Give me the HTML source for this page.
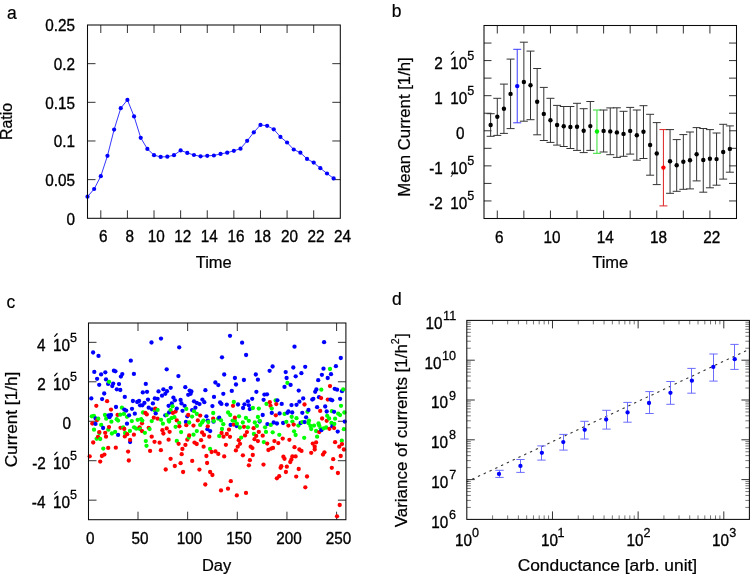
<!DOCTYPE html>
<html><head><meta charset="utf-8"><title>Figure</title>
<style>
html,body{margin:0;padding:0;background:#fff;}
body{width:751px;height:575px;overflow:hidden;}
svg{display:block;will-change:transform;}
svg text{font-family:"Liberation Sans", sans-serif;fill:#000;}
</style></head><body>
<svg width="751" height="575" viewBox="0 0 751 575">
<rect width="751" height="575" fill="#fff"/>
<line x1="100.81" y1="218.30" x2="100.81" y2="210.30" stroke="#333" stroke-width="1" />
<line x1="100.81" y1="25.00" x2="100.81" y2="33.00" stroke="#333" stroke-width="1" />
<text transform="translate(98.92,241.90) scale(0.9,1)" font-size="17.0" stroke="#000" stroke-width="0.35">6</text>
<line x1="127.42" y1="218.30" x2="127.42" y2="210.30" stroke="#333" stroke-width="1" />
<line x1="127.42" y1="25.00" x2="127.42" y2="33.00" stroke="#333" stroke-width="1" />
<text transform="translate(125.53,241.90) scale(0.9,1)" font-size="17.0" stroke="#000" stroke-width="0.35">8</text>
<line x1="154.03" y1="218.30" x2="154.03" y2="210.30" stroke="#333" stroke-width="1" />
<line x1="154.03" y1="25.00" x2="154.03" y2="33.00" stroke="#333" stroke-width="1" />
<text transform="translate(147.67,241.90) scale(0.9,1)" font-size="17.0" stroke="#000" stroke-width="0.35">10</text>
<line x1="180.64" y1="218.30" x2="180.64" y2="210.30" stroke="#333" stroke-width="1" />
<line x1="180.64" y1="25.00" x2="180.64" y2="33.00" stroke="#333" stroke-width="1" />
<text transform="translate(174.35,241.90) scale(0.9,1)" font-size="17.0" stroke="#000" stroke-width="0.35">12</text>
<line x1="207.25" y1="218.30" x2="207.25" y2="210.30" stroke="#333" stroke-width="1" />
<line x1="207.25" y1="25.00" x2="207.25" y2="33.00" stroke="#333" stroke-width="1" />
<text transform="translate(200.81,241.90) scale(0.9,1)" font-size="17.0" stroke="#000" stroke-width="0.35">14</text>
<line x1="233.86" y1="218.30" x2="233.86" y2="210.30" stroke="#333" stroke-width="1" />
<line x1="233.86" y1="25.00" x2="233.86" y2="33.00" stroke="#333" stroke-width="1" />
<text transform="translate(227.54,241.90) scale(0.9,1)" font-size="17.0" stroke="#000" stroke-width="0.35">16</text>
<line x1="260.47" y1="218.30" x2="260.47" y2="210.30" stroke="#333" stroke-width="1" />
<line x1="260.47" y1="25.00" x2="260.47" y2="33.00" stroke="#333" stroke-width="1" />
<text transform="translate(254.11,241.90) scale(0.9,1)" font-size="17.0" stroke="#000" stroke-width="0.35">18</text>
<line x1="287.08" y1="218.30" x2="287.08" y2="210.30" stroke="#333" stroke-width="1" />
<line x1="287.08" y1="25.00" x2="287.08" y2="33.00" stroke="#333" stroke-width="1" />
<text transform="translate(280.91,241.90) scale(0.9,1)" font-size="17.0" stroke="#000" stroke-width="0.35">20</text>
<line x1="313.69" y1="218.30" x2="313.69" y2="210.30" stroke="#333" stroke-width="1" />
<line x1="313.69" y1="25.00" x2="313.69" y2="33.00" stroke="#333" stroke-width="1" />
<text transform="translate(307.60,241.90) scale(0.9,1)" font-size="17.0" stroke="#000" stroke-width="0.35">22</text>
<text transform="translate(334.06,241.90) scale(0.9,1)" font-size="17.0" stroke="#000" stroke-width="0.35">24</text>
<text transform="translate(66.42,224.50) scale(0.9,1)" font-size="17.0" stroke="#000" stroke-width="0.35">0</text>
<line x1="87.50" y1="179.64" x2="95.50" y2="179.64" stroke="#333" stroke-width="1" />
<line x1="340.30" y1="179.64" x2="332.30" y2="179.64" stroke="#333" stroke-width="1" />
<text transform="translate(45.15,185.84) scale(0.9,1)" font-size="17.0" stroke="#000" stroke-width="0.35">0.05</text>
<line x1="87.50" y1="140.98" x2="95.50" y2="140.98" stroke="#333" stroke-width="1" />
<line x1="340.30" y1="140.98" x2="332.30" y2="140.98" stroke="#333" stroke-width="1" />
<text transform="translate(53.80,147.18) scale(0.9,1)" font-size="17.0" stroke="#000" stroke-width="0.35">0.1</text>
<line x1="87.50" y1="102.32" x2="95.50" y2="102.32" stroke="#333" stroke-width="1" />
<line x1="340.30" y1="102.32" x2="332.30" y2="102.32" stroke="#333" stroke-width="1" />
<text transform="translate(45.15,108.52) scale(0.9,1)" font-size="17.0" stroke="#000" stroke-width="0.35">0.15</text>
<line x1="87.50" y1="63.66" x2="95.50" y2="63.66" stroke="#333" stroke-width="1" />
<line x1="340.30" y1="63.66" x2="332.30" y2="63.66" stroke="#333" stroke-width="1" />
<text transform="translate(53.80,69.86) scale(0.9,1)" font-size="17.0" stroke="#000" stroke-width="0.35">0.2</text>
<text transform="translate(45.15,31.20) scale(0.9,1)" font-size="17.0" stroke="#000" stroke-width="0.35">0.25</text>
<polyline fill="none" stroke="#1e1eff" stroke-width="0.9" stroke-linejoin="round" points="87.50,196.70 94.15,189.00 100.81,176.20 107.46,155.80 114.11,129.60 120.76,108.20 127.42,99.90 134.07,116.40 140.72,137.80 147.37,148.90 154.03,155.20 160.68,156.90 167.33,156.70 173.98,155.20 180.64,150.40 187.29,152.90 193.94,155.00 200.59,156.30 207.25,155.80 213.90,155.50 220.55,153.90 227.21,152.70 233.86,150.80 240.51,148.70 247.16,140.80 253.82,132.30 260.47,124.90 267.12,125.80 273.77,129.30 280.43,136.90 287.08,142.50 293.73,149.50 300.38,152.70 307.04,158.90 313.69,162.60 320.34,168.20 326.99,173.50 333.65,178.40"/>
<circle cx="87.50" cy="196.70" r="2.1" fill="#0000ff"/>
<circle cx="94.15" cy="189.00" r="2.1" fill="#0000ff"/>
<circle cx="100.81" cy="176.20" r="2.1" fill="#0000ff"/>
<circle cx="107.46" cy="155.80" r="2.1" fill="#0000ff"/>
<circle cx="114.11" cy="129.60" r="2.1" fill="#0000ff"/>
<circle cx="120.76" cy="108.20" r="2.1" fill="#0000ff"/>
<circle cx="127.42" cy="99.90" r="2.1" fill="#0000ff"/>
<circle cx="134.07" cy="116.40" r="2.1" fill="#0000ff"/>
<circle cx="140.72" cy="137.80" r="2.1" fill="#0000ff"/>
<circle cx="147.37" cy="148.90" r="2.1" fill="#0000ff"/>
<circle cx="154.03" cy="155.20" r="2.1" fill="#0000ff"/>
<circle cx="160.68" cy="156.90" r="2.1" fill="#0000ff"/>
<circle cx="167.33" cy="156.70" r="2.1" fill="#0000ff"/>
<circle cx="173.98" cy="155.20" r="2.1" fill="#0000ff"/>
<circle cx="180.64" cy="150.40" r="2.1" fill="#0000ff"/>
<circle cx="187.29" cy="152.90" r="2.1" fill="#0000ff"/>
<circle cx="193.94" cy="155.00" r="2.1" fill="#0000ff"/>
<circle cx="200.59" cy="156.30" r="2.1" fill="#0000ff"/>
<circle cx="207.25" cy="155.80" r="2.1" fill="#0000ff"/>
<circle cx="213.90" cy="155.50" r="2.1" fill="#0000ff"/>
<circle cx="220.55" cy="153.90" r="2.1" fill="#0000ff"/>
<circle cx="227.21" cy="152.70" r="2.1" fill="#0000ff"/>
<circle cx="233.86" cy="150.80" r="2.1" fill="#0000ff"/>
<circle cx="240.51" cy="148.70" r="2.1" fill="#0000ff"/>
<circle cx="247.16" cy="140.80" r="2.1" fill="#0000ff"/>
<circle cx="253.82" cy="132.30" r="2.1" fill="#0000ff"/>
<circle cx="260.47" cy="124.90" r="2.1" fill="#0000ff"/>
<circle cx="267.12" cy="125.80" r="2.1" fill="#0000ff"/>
<circle cx="273.77" cy="129.30" r="2.1" fill="#0000ff"/>
<circle cx="280.43" cy="136.90" r="2.1" fill="#0000ff"/>
<circle cx="287.08" cy="142.50" r="2.1" fill="#0000ff"/>
<circle cx="293.73" cy="149.50" r="2.1" fill="#0000ff"/>
<circle cx="300.38" cy="152.70" r="2.1" fill="#0000ff"/>
<circle cx="307.04" cy="158.90" r="2.1" fill="#0000ff"/>
<circle cx="313.69" cy="162.60" r="2.1" fill="#0000ff"/>
<circle cx="320.34" cy="168.20" r="2.1" fill="#0000ff"/>
<circle cx="326.99" cy="173.50" r="2.1" fill="#0000ff"/>
<circle cx="333.65" cy="178.40" r="2.1" fill="#0000ff"/>
<rect x="87.50" y="25.00" width="252.80" height="193.30" fill="none" stroke="#0a0a0a" stroke-width="1.05"/>
<text transform="translate(195.70,267.90) scale(1.03,1)" font-size="16.0" stroke="#000" stroke-width="0.22">Time</text>
<text transform="translate(11.80,121.40) rotate(-90)" font-size="16" text-anchor="middle" textLength="37" lengthAdjust="spacingAndGlyphs" stroke="#000" stroke-width="0.22">Ratio</text>
<text transform="translate(6.91,18.80) scale(0.92,1)" font-size="19.0" stroke="#000" stroke-width="0.22">a</text>
<line x1="497.29" y1="218.50" x2="497.29" y2="210.50" stroke="#333" stroke-width="1" />
<line x1="497.29" y1="25.50" x2="497.29" y2="33.50" stroke="#333" stroke-width="1" />
<line x1="523.87" y1="218.50" x2="523.87" y2="210.50" stroke="#333" stroke-width="1" />
<line x1="523.87" y1="25.50" x2="523.87" y2="33.50" stroke="#333" stroke-width="1" />
<line x1="550.45" y1="218.50" x2="550.45" y2="210.50" stroke="#333" stroke-width="1" />
<line x1="550.45" y1="25.50" x2="550.45" y2="33.50" stroke="#333" stroke-width="1" />
<line x1="577.03" y1="218.50" x2="577.03" y2="210.50" stroke="#333" stroke-width="1" />
<line x1="577.03" y1="25.50" x2="577.03" y2="33.50" stroke="#333" stroke-width="1" />
<line x1="603.61" y1="218.50" x2="603.61" y2="210.50" stroke="#333" stroke-width="1" />
<line x1="603.61" y1="25.50" x2="603.61" y2="33.50" stroke="#333" stroke-width="1" />
<line x1="630.18" y1="218.50" x2="630.18" y2="210.50" stroke="#333" stroke-width="1" />
<line x1="630.18" y1="25.50" x2="630.18" y2="33.50" stroke="#333" stroke-width="1" />
<line x1="656.76" y1="218.50" x2="656.76" y2="210.50" stroke="#333" stroke-width="1" />
<line x1="656.76" y1="25.50" x2="656.76" y2="33.50" stroke="#333" stroke-width="1" />
<line x1="683.34" y1="218.50" x2="683.34" y2="210.50" stroke="#333" stroke-width="1" />
<line x1="683.34" y1="25.50" x2="683.34" y2="33.50" stroke="#333" stroke-width="1" />
<line x1="709.92" y1="218.50" x2="709.92" y2="210.50" stroke="#333" stroke-width="1" />
<line x1="709.92" y1="25.50" x2="709.92" y2="33.50" stroke="#333" stroke-width="1" />
<text transform="translate(494.91,242.90) scale(0.9,1)" font-size="17.0" stroke="#000" stroke-width="0.35">6</text>
<text transform="translate(543.59,242.90) scale(0.9,1)" font-size="17.0" stroke="#000" stroke-width="0.35">10</text>
<text transform="translate(596.67,242.90) scale(0.9,1)" font-size="17.0" stroke="#000" stroke-width="0.35">14</text>
<text transform="translate(649.90,242.90) scale(0.9,1)" font-size="17.0" stroke="#000" stroke-width="0.35">18</text>
<text transform="translate(703.33,242.90) scale(0.9,1)" font-size="17.0" stroke="#000" stroke-width="0.35">22</text>
<line x1="484.00" y1="200.95" x2="491.50" y2="200.95" stroke="#333" stroke-width="1" />
<line x1="736.50" y1="200.95" x2="729.00" y2="200.95" stroke="#333" stroke-width="1" />
<line x1="484.00" y1="183.41" x2="491.50" y2="183.41" stroke="#333" stroke-width="1" />
<line x1="736.50" y1="183.41" x2="729.00" y2="183.41" stroke="#333" stroke-width="1" />
<line x1="484.00" y1="165.86" x2="491.50" y2="165.86" stroke="#333" stroke-width="1" />
<line x1="736.50" y1="165.86" x2="729.00" y2="165.86" stroke="#333" stroke-width="1" />
<line x1="484.00" y1="148.32" x2="491.50" y2="148.32" stroke="#333" stroke-width="1" />
<line x1="736.50" y1="148.32" x2="729.00" y2="148.32" stroke="#333" stroke-width="1" />
<line x1="484.00" y1="130.77" x2="491.50" y2="130.77" stroke="#333" stroke-width="1" />
<line x1="736.50" y1="130.77" x2="729.00" y2="130.77" stroke="#333" stroke-width="1" />
<line x1="484.00" y1="113.23" x2="491.50" y2="113.23" stroke="#333" stroke-width="1" />
<line x1="736.50" y1="113.23" x2="729.00" y2="113.23" stroke="#333" stroke-width="1" />
<line x1="484.00" y1="95.68" x2="491.50" y2="95.68" stroke="#333" stroke-width="1" />
<line x1="736.50" y1="95.68" x2="729.00" y2="95.68" stroke="#333" stroke-width="1" />
<line x1="484.00" y1="78.14" x2="491.50" y2="78.14" stroke="#333" stroke-width="1" />
<line x1="736.50" y1="78.14" x2="729.00" y2="78.14" stroke="#333" stroke-width="1" />
<line x1="484.00" y1="60.59" x2="491.50" y2="60.59" stroke="#333" stroke-width="1" />
<line x1="736.50" y1="60.59" x2="729.00" y2="60.59" stroke="#333" stroke-width="1" />
<line x1="484.00" y1="43.05" x2="491.50" y2="43.05" stroke="#333" stroke-width="1" />
<line x1="736.50" y1="43.05" x2="729.00" y2="43.05" stroke="#333" stroke-width="1" />
<text transform="translate(434.27,68.89) scale(0.9,1)" font-size="17.0" stroke="#000" stroke-width="0.35">2</text>
<text transform="translate(450.25,68.89) scale(0.9,1)" font-size="17.0" stroke="#000" stroke-width="0.35">10</text>
<text transform="translate(467.32,59.89) scale(0.97,1)" font-size="13.0" stroke="#000" stroke-width="0.28">5</text>
<text transform="translate(434.27,103.98) scale(0.9,1)" font-size="17.0" stroke="#000" stroke-width="0.35">1</text>
<text transform="translate(450.25,103.98) scale(0.9,1)" font-size="17.0" stroke="#000" stroke-width="0.35">10</text>
<text transform="translate(467.32,94.98) scale(0.97,1)" font-size="13.0" stroke="#000" stroke-width="0.28">5</text>
<text transform="translate(429.15,174.16) scale(0.9,1)" font-size="17.0" stroke="#000" stroke-width="0.35">-1</text>
<text transform="translate(450.25,174.16) scale(0.9,1)" font-size="17.0" stroke="#000" stroke-width="0.35">10</text>
<text transform="translate(467.32,165.16) scale(0.97,1)" font-size="13.0" stroke="#000" stroke-width="0.28">5</text>
<text transform="translate(429.15,209.25) scale(0.9,1)" font-size="17.0" stroke="#000" stroke-width="0.35">-2</text>
<text transform="translate(450.25,209.25) scale(0.9,1)" font-size="17.0" stroke="#000" stroke-width="0.35">10</text>
<text transform="translate(467.32,200.25) scale(0.97,1)" font-size="13.0" stroke="#000" stroke-width="0.28">5</text>
<line x1="451.30" y1="54.20" x2="453.70" y2="51.60" stroke="#000" stroke-width="1.25" stroke-linecap="round"/>
<text transform="translate(455.92,138.97) scale(0.9,1)" font-size="17.0" stroke="#000" stroke-width="0.35">0</text>
<path d="M452.3,170.6 L452.6,174.3 L451.0,176.9" fill="none" stroke="#111" stroke-width="0.9"/>
<line x1="490.64" y1="113.70" x2="490.64" y2="136.30" stroke="#333" stroke-width="1" />
<line x1="486.64" y1="113.70" x2="494.64" y2="113.70" stroke="#333" stroke-width="1" />
<line x1="486.64" y1="136.30" x2="494.64" y2="136.30" stroke="#333" stroke-width="1" />
<line x1="497.29" y1="98.30" x2="497.29" y2="135.40" stroke="#333" stroke-width="1" />
<line x1="493.29" y1="98.30" x2="501.29" y2="98.30" stroke="#333" stroke-width="1" />
<line x1="493.29" y1="135.40" x2="501.29" y2="135.40" stroke="#333" stroke-width="1" />
<line x1="503.93" y1="84.10" x2="503.93" y2="133.40" stroke="#333" stroke-width="1" />
<line x1="499.93" y1="84.10" x2="507.93" y2="84.10" stroke="#333" stroke-width="1" />
<line x1="499.93" y1="133.40" x2="507.93" y2="133.40" stroke="#333" stroke-width="1" />
<line x1="510.58" y1="59.10" x2="510.58" y2="128.60" stroke="#333" stroke-width="1" />
<line x1="506.58" y1="59.10" x2="514.58" y2="59.10" stroke="#333" stroke-width="1" />
<line x1="506.58" y1="128.60" x2="514.58" y2="128.60" stroke="#333" stroke-width="1" />
<line x1="517.22" y1="49.30" x2="517.22" y2="122.80" stroke="#3a3aff" stroke-width="1" />
<line x1="513.22" y1="49.30" x2="521.22" y2="49.30" stroke="#3a3aff" stroke-width="1" />
<line x1="513.22" y1="122.80" x2="521.22" y2="122.80" stroke="#3a3aff" stroke-width="1" />
<line x1="523.87" y1="42.20" x2="523.87" y2="121.20" stroke="#333" stroke-width="1" />
<line x1="519.87" y1="42.20" x2="527.87" y2="42.20" stroke="#333" stroke-width="1" />
<line x1="519.87" y1="121.20" x2="527.87" y2="121.20" stroke="#333" stroke-width="1" />
<line x1="530.51" y1="51.10" x2="530.51" y2="119.70" stroke="#333" stroke-width="1" />
<line x1="526.51" y1="51.10" x2="534.51" y2="51.10" stroke="#333" stroke-width="1" />
<line x1="526.51" y1="119.70" x2="534.51" y2="119.70" stroke="#333" stroke-width="1" />
<line x1="537.16" y1="68.50" x2="537.16" y2="134.80" stroke="#333" stroke-width="1" />
<line x1="533.16" y1="68.50" x2="541.16" y2="68.50" stroke="#333" stroke-width="1" />
<line x1="533.16" y1="134.80" x2="541.16" y2="134.80" stroke="#333" stroke-width="1" />
<line x1="543.80" y1="87.40" x2="543.80" y2="140.50" stroke="#333" stroke-width="1" />
<line x1="539.80" y1="87.40" x2="547.80" y2="87.40" stroke="#333" stroke-width="1" />
<line x1="539.80" y1="140.50" x2="547.80" y2="140.50" stroke="#333" stroke-width="1" />
<line x1="550.45" y1="98.30" x2="550.45" y2="142.40" stroke="#333" stroke-width="1" />
<line x1="546.45" y1="98.30" x2="554.45" y2="98.30" stroke="#333" stroke-width="1" />
<line x1="546.45" y1="142.40" x2="554.45" y2="142.40" stroke="#333" stroke-width="1" />
<line x1="557.09" y1="105.40" x2="557.09" y2="145.10" stroke="#333" stroke-width="1" />
<line x1="553.09" y1="105.40" x2="561.09" y2="105.40" stroke="#333" stroke-width="1" />
<line x1="553.09" y1="145.10" x2="561.09" y2="145.10" stroke="#333" stroke-width="1" />
<line x1="563.74" y1="106.50" x2="563.74" y2="146.50" stroke="#333" stroke-width="1" />
<line x1="559.74" y1="106.50" x2="567.74" y2="106.50" stroke="#333" stroke-width="1" />
<line x1="559.74" y1="146.50" x2="567.74" y2="146.50" stroke="#333" stroke-width="1" />
<line x1="570.38" y1="106.50" x2="570.38" y2="148.50" stroke="#333" stroke-width="1" />
<line x1="566.38" y1="106.50" x2="574.38" y2="106.50" stroke="#333" stroke-width="1" />
<line x1="566.38" y1="148.50" x2="574.38" y2="148.50" stroke="#333" stroke-width="1" />
<line x1="577.03" y1="103.30" x2="577.03" y2="150.40" stroke="#333" stroke-width="1" />
<line x1="573.03" y1="103.30" x2="581.03" y2="103.30" stroke="#333" stroke-width="1" />
<line x1="573.03" y1="150.40" x2="581.03" y2="150.40" stroke="#333" stroke-width="1" />
<line x1="583.67" y1="108.70" x2="583.67" y2="152.60" stroke="#333" stroke-width="1" />
<line x1="579.67" y1="108.70" x2="587.67" y2="108.70" stroke="#333" stroke-width="1" />
<line x1="579.67" y1="152.60" x2="587.67" y2="152.60" stroke="#333" stroke-width="1" />
<line x1="590.32" y1="101.50" x2="590.32" y2="150.40" stroke="#333" stroke-width="1" />
<line x1="586.32" y1="101.50" x2="594.32" y2="101.50" stroke="#333" stroke-width="1" />
<line x1="586.32" y1="150.40" x2="594.32" y2="150.40" stroke="#333" stroke-width="1" />
<line x1="596.96" y1="110.00" x2="596.96" y2="153.30" stroke="#33dd33" stroke-width="1" />
<line x1="592.96" y1="110.00" x2="600.96" y2="110.00" stroke="#33dd33" stroke-width="1" />
<line x1="592.96" y1="153.30" x2="600.96" y2="153.30" stroke="#33dd33" stroke-width="1" />
<line x1="603.61" y1="110.00" x2="603.61" y2="152.00" stroke="#333" stroke-width="1" />
<line x1="599.61" y1="110.00" x2="607.61" y2="110.00" stroke="#333" stroke-width="1" />
<line x1="599.61" y1="152.00" x2="607.61" y2="152.00" stroke="#333" stroke-width="1" />
<line x1="610.25" y1="107.90" x2="610.25" y2="154.70" stroke="#333" stroke-width="1" />
<line x1="606.25" y1="107.90" x2="614.25" y2="107.90" stroke="#333" stroke-width="1" />
<line x1="606.25" y1="154.70" x2="614.25" y2="154.70" stroke="#333" stroke-width="1" />
<line x1="616.89" y1="107.80" x2="616.89" y2="157.40" stroke="#333" stroke-width="1" />
<line x1="612.89" y1="107.80" x2="620.89" y2="107.80" stroke="#333" stroke-width="1" />
<line x1="612.89" y1="157.40" x2="620.89" y2="157.40" stroke="#333" stroke-width="1" />
<line x1="623.54" y1="111.30" x2="623.54" y2="156.30" stroke="#333" stroke-width="1" />
<line x1="619.54" y1="111.30" x2="627.54" y2="111.30" stroke="#333" stroke-width="1" />
<line x1="619.54" y1="156.30" x2="627.54" y2="156.30" stroke="#333" stroke-width="1" />
<line x1="630.18" y1="107.40" x2="630.18" y2="154.10" stroke="#333" stroke-width="1" />
<line x1="626.18" y1="107.40" x2="634.18" y2="107.40" stroke="#333" stroke-width="1" />
<line x1="626.18" y1="154.10" x2="634.18" y2="154.10" stroke="#333" stroke-width="1" />
<line x1="636.83" y1="110.00" x2="636.83" y2="160.20" stroke="#333" stroke-width="1" />
<line x1="632.83" y1="110.00" x2="640.83" y2="110.00" stroke="#333" stroke-width="1" />
<line x1="632.83" y1="160.20" x2="640.83" y2="160.20" stroke="#333" stroke-width="1" />
<line x1="643.47" y1="105.70" x2="643.47" y2="158.50" stroke="#333" stroke-width="1" />
<line x1="639.47" y1="105.70" x2="647.47" y2="105.70" stroke="#333" stroke-width="1" />
<line x1="639.47" y1="158.50" x2="647.47" y2="158.50" stroke="#333" stroke-width="1" />
<line x1="650.12" y1="114.30" x2="650.12" y2="175.20" stroke="#333" stroke-width="1" />
<line x1="646.12" y1="114.30" x2="654.12" y2="114.30" stroke="#333" stroke-width="1" />
<line x1="646.12" y1="175.20" x2="654.12" y2="175.20" stroke="#333" stroke-width="1" />
<line x1="656.76" y1="122.60" x2="656.76" y2="184.60" stroke="#333" stroke-width="1" />
<line x1="652.76" y1="122.60" x2="660.76" y2="122.60" stroke="#333" stroke-width="1" />
<line x1="652.76" y1="184.60" x2="660.76" y2="184.60" stroke="#333" stroke-width="1" />
<line x1="663.41" y1="129.60" x2="663.41" y2="205.90" stroke="#dd2222" stroke-width="1" />
<line x1="659.41" y1="129.60" x2="667.41" y2="129.60" stroke="#dd2222" stroke-width="1" />
<line x1="659.41" y1="205.90" x2="667.41" y2="205.90" stroke="#dd2222" stroke-width="1" />
<line x1="670.05" y1="129.60" x2="670.05" y2="193.30" stroke="#333" stroke-width="1" />
<line x1="666.05" y1="129.60" x2="674.05" y2="129.60" stroke="#333" stroke-width="1" />
<line x1="666.05" y1="193.30" x2="674.05" y2="193.30" stroke="#333" stroke-width="1" />
<line x1="676.70" y1="139.60" x2="676.70" y2="191.30" stroke="#333" stroke-width="1" />
<line x1="672.70" y1="139.60" x2="680.70" y2="139.60" stroke="#333" stroke-width="1" />
<line x1="672.70" y1="191.30" x2="680.70" y2="191.30" stroke="#333" stroke-width="1" />
<line x1="683.34" y1="134.60" x2="683.34" y2="189.30" stroke="#333" stroke-width="1" />
<line x1="679.34" y1="134.60" x2="687.34" y2="134.60" stroke="#333" stroke-width="1" />
<line x1="679.34" y1="189.30" x2="687.34" y2="189.30" stroke="#333" stroke-width="1" />
<line x1="689.99" y1="132.00" x2="689.99" y2="188.90" stroke="#333" stroke-width="1" />
<line x1="685.99" y1="132.00" x2="693.99" y2="132.00" stroke="#333" stroke-width="1" />
<line x1="685.99" y1="188.90" x2="693.99" y2="188.90" stroke="#333" stroke-width="1" />
<line x1="696.63" y1="127.60" x2="696.63" y2="180.90" stroke="#333" stroke-width="1" />
<line x1="692.63" y1="127.60" x2="700.63" y2="127.60" stroke="#333" stroke-width="1" />
<line x1="692.63" y1="180.90" x2="700.63" y2="180.90" stroke="#333" stroke-width="1" />
<line x1="703.28" y1="128.50" x2="703.28" y2="192.20" stroke="#333" stroke-width="1" />
<line x1="699.28" y1="128.50" x2="707.28" y2="128.50" stroke="#333" stroke-width="1" />
<line x1="699.28" y1="192.20" x2="707.28" y2="192.20" stroke="#333" stroke-width="1" />
<line x1="709.92" y1="129.60" x2="709.92" y2="187.80" stroke="#333" stroke-width="1" />
<line x1="705.92" y1="129.60" x2="713.92" y2="129.60" stroke="#333" stroke-width="1" />
<line x1="705.92" y1="187.80" x2="713.92" y2="187.80" stroke="#333" stroke-width="1" />
<line x1="716.57" y1="133.00" x2="716.57" y2="185.20" stroke="#333" stroke-width="1" />
<line x1="712.57" y1="133.00" x2="720.57" y2="133.00" stroke="#333" stroke-width="1" />
<line x1="712.57" y1="185.20" x2="720.57" y2="185.20" stroke="#333" stroke-width="1" />
<line x1="723.21" y1="124.30" x2="723.21" y2="179.10" stroke="#333" stroke-width="1" />
<line x1="719.21" y1="124.30" x2="727.21" y2="124.30" stroke="#333" stroke-width="1" />
<line x1="719.21" y1="179.10" x2="727.21" y2="179.10" stroke="#333" stroke-width="1" />
<line x1="729.86" y1="125.90" x2="729.86" y2="172.20" stroke="#333" stroke-width="1" />
<line x1="725.86" y1="125.90" x2="733.86" y2="125.90" stroke="#333" stroke-width="1" />
<line x1="725.86" y1="172.20" x2="733.86" y2="172.20" stroke="#333" stroke-width="1" />
<circle cx="490.64" cy="125.00" r="2.2" fill="#000"/>
<circle cx="497.29" cy="116.70" r="2.2" fill="#000"/>
<circle cx="503.93" cy="108.70" r="2.2" fill="#000"/>
<circle cx="510.58" cy="93.90" r="2.2" fill="#000"/>
<circle cx="517.22" cy="86.10" r="2.2" fill="#0000ff"/>
<circle cx="523.87" cy="82.00" r="2.2" fill="#000"/>
<circle cx="530.51" cy="85.20" r="2.2" fill="#000"/>
<circle cx="537.16" cy="101.70" r="2.2" fill="#000"/>
<circle cx="543.80" cy="113.90" r="2.2" fill="#000"/>
<circle cx="550.45" cy="120.20" r="2.2" fill="#000"/>
<circle cx="557.09" cy="125.00" r="2.2" fill="#000"/>
<circle cx="563.74" cy="126.30" r="2.2" fill="#000"/>
<circle cx="570.38" cy="127.00" r="2.2" fill="#000"/>
<circle cx="577.03" cy="126.70" r="2.2" fill="#000"/>
<circle cx="583.67" cy="130.70" r="2.2" fill="#000"/>
<circle cx="590.32" cy="126.10" r="2.2" fill="#000"/>
<circle cx="596.96" cy="131.50" r="2.2" fill="#00ee00"/>
<circle cx="603.61" cy="130.90" r="2.2" fill="#000"/>
<circle cx="610.25" cy="131.40" r="2.2" fill="#000"/>
<circle cx="616.89" cy="132.40" r="2.2" fill="#000"/>
<circle cx="623.54" cy="133.90" r="2.2" fill="#000"/>
<circle cx="630.18" cy="130.90" r="2.2" fill="#000"/>
<circle cx="636.83" cy="135.20" r="2.2" fill="#000"/>
<circle cx="643.47" cy="131.70" r="2.2" fill="#000"/>
<circle cx="650.12" cy="145.00" r="2.2" fill="#000"/>
<circle cx="656.76" cy="153.50" r="2.2" fill="#000"/>
<circle cx="663.41" cy="167.60" r="2.2" fill="#ff0000"/>
<circle cx="670.05" cy="161.30" r="2.2" fill="#000"/>
<circle cx="676.70" cy="165.20" r="2.2" fill="#000"/>
<circle cx="683.34" cy="161.70" r="2.2" fill="#000"/>
<circle cx="689.99" cy="160.20" r="2.2" fill="#000"/>
<circle cx="696.63" cy="154.30" r="2.2" fill="#000"/>
<circle cx="703.28" cy="160.00" r="2.2" fill="#000"/>
<circle cx="709.92" cy="158.70" r="2.2" fill="#000"/>
<circle cx="716.57" cy="159.10" r="2.2" fill="#000"/>
<circle cx="723.21" cy="152.00" r="2.2" fill="#000"/>
<circle cx="729.86" cy="148.90" r="2.2" fill="#000"/>
<rect x="484.00" y="25.50" width="252.50" height="193.00" fill="none" stroke="#0a0a0a" stroke-width="1.05"/>
<text transform="translate(592.20,268.20) scale(1.03,1)" font-size="16.0" stroke="#000" stroke-width="0.22">Time</text>
<text transform="translate(410.20,127.00) rotate(-90)" font-size="16" text-anchor="middle" textLength="139.5" lengthAdjust="spacingAndGlyphs" stroke="#000" stroke-width="0.22">Mean Current [1/h]</text>
<text transform="translate(391.86,17.00) scale(0.92,1)" font-size="19.0" stroke="#000" stroke-width="0.22">b</text>
<text transform="translate(86.10,544.20) scale(0.9,1)" font-size="17.0" stroke="#000" stroke-width="0.35">0</text>
<line x1="138.00" y1="519.70" x2="138.00" y2="511.70" stroke="#333" stroke-width="1" />
<line x1="138.00" y1="323.00" x2="138.00" y2="331.00" stroke="#333" stroke-width="1" />
<text transform="translate(131.51,544.20) scale(0.9,1)" font-size="17.0" stroke="#000" stroke-width="0.35">50</text>
<line x1="187.65" y1="519.70" x2="187.65" y2="511.70" stroke="#333" stroke-width="1" />
<line x1="187.65" y1="323.00" x2="187.65" y2="331.00" stroke="#333" stroke-width="1" />
<text transform="translate(176.64,544.20) scale(0.9,1)" font-size="17.0" stroke="#000" stroke-width="0.35">100</text>
<line x1="237.30" y1="519.70" x2="237.30" y2="511.70" stroke="#333" stroke-width="1" />
<line x1="237.30" y1="323.00" x2="237.30" y2="331.00" stroke="#333" stroke-width="1" />
<text transform="translate(226.29,544.20) scale(0.9,1)" font-size="17.0" stroke="#000" stroke-width="0.35">150</text>
<line x1="286.95" y1="519.70" x2="286.95" y2="511.70" stroke="#333" stroke-width="1" />
<line x1="286.95" y1="323.00" x2="286.95" y2="331.00" stroke="#333" stroke-width="1" />
<text transform="translate(276.14,544.20) scale(0.9,1)" font-size="17.0" stroke="#000" stroke-width="0.35">200</text>
<line x1="336.60" y1="519.70" x2="336.60" y2="511.70" stroke="#333" stroke-width="1" />
<line x1="336.60" y1="323.00" x2="336.60" y2="331.00" stroke="#333" stroke-width="1" />
<text transform="translate(325.79,544.20) scale(0.9,1)" font-size="17.0" stroke="#000" stroke-width="0.35">250</text>
<line x1="88.50" y1="500.17" x2="96.50" y2="500.17" stroke="#333" stroke-width="1" />
<line x1="345.90" y1="500.17" x2="337.90" y2="500.17" stroke="#333" stroke-width="1" />
<line x1="88.50" y1="460.71" x2="96.50" y2="460.71" stroke="#333" stroke-width="1" />
<line x1="345.90" y1="460.71" x2="337.90" y2="460.71" stroke="#333" stroke-width="1" />
<line x1="88.50" y1="421.25" x2="96.50" y2="421.25" stroke="#333" stroke-width="1" />
<line x1="345.90" y1="421.25" x2="337.90" y2="421.25" stroke="#333" stroke-width="1" />
<line x1="88.50" y1="381.79" x2="96.50" y2="381.79" stroke="#333" stroke-width="1" />
<line x1="345.90" y1="381.79" x2="337.90" y2="381.79" stroke="#333" stroke-width="1" />
<line x1="88.50" y1="342.33" x2="96.50" y2="342.33" stroke="#333" stroke-width="1" />
<line x1="345.90" y1="342.33" x2="337.90" y2="342.33" stroke="#333" stroke-width="1" />
<text transform="translate(36.97,350.63) scale(0.9,1)" font-size="17.0" stroke="#000" stroke-width="0.35">4</text>
<text transform="translate(53.05,350.63) scale(0.9,1)" font-size="17.0" stroke="#000" stroke-width="0.35">10</text>
<text transform="translate(70.12,341.63) scale(0.97,1)" font-size="13.0" stroke="#000" stroke-width="0.28">5</text>
<line x1="54.70" y1="336.33" x2="57.10" y2="333.73" stroke="#000" stroke-width="1.25" stroke-linecap="round"/>
<text transform="translate(37.27,390.09) scale(0.9,1)" font-size="17.0" stroke="#000" stroke-width="0.35">2</text>
<text transform="translate(53.05,390.09) scale(0.9,1)" font-size="17.0" stroke="#000" stroke-width="0.35">10</text>
<text transform="translate(70.12,381.09) scale(0.97,1)" font-size="13.0" stroke="#000" stroke-width="0.28">5</text>
<line x1="54.70" y1="375.79" x2="57.10" y2="373.19" stroke="#000" stroke-width="1.25" stroke-linecap="round"/>
<text transform="translate(32.15,469.01) scale(0.9,1)" font-size="17.0" stroke="#000" stroke-width="0.35">-2</text>
<text transform="translate(53.05,469.01) scale(0.9,1)" font-size="17.0" stroke="#000" stroke-width="0.35">10</text>
<text transform="translate(70.12,460.01) scale(0.97,1)" font-size="13.0" stroke="#000" stroke-width="0.28">5</text>
<line x1="54.70" y1="454.71" x2="57.10" y2="452.11" stroke="#000" stroke-width="1.25" stroke-linecap="round"/>
<text transform="translate(31.84,508.47) scale(0.9,1)" font-size="17.0" stroke="#000" stroke-width="0.35">-4</text>
<text transform="translate(53.05,508.47) scale(0.9,1)" font-size="17.0" stroke="#000" stroke-width="0.35">10</text>
<text transform="translate(70.12,499.47) scale(0.97,1)" font-size="13.0" stroke="#000" stroke-width="0.28">5</text>
<line x1="54.70" y1="494.17" x2="57.10" y2="491.57" stroke="#000" stroke-width="1.25" stroke-linecap="round"/>
<text transform="translate(62.42,429.25) scale(0.9,1)" font-size="17.0" stroke="#000" stroke-width="0.35">0</text>
<circle cx="89.70" cy="456.30" r="2.15" fill="#ff0000"/>
<circle cx="91.30" cy="398.40" r="2.15" fill="#0000ff"/>
<circle cx="91.80" cy="416.30" r="2.15" fill="#00ff00"/>
<circle cx="92.30" cy="423.50" r="2.15" fill="#ff0000"/>
<circle cx="93.10" cy="352.50" r="2.15" fill="#0000ff"/>
<circle cx="93.20" cy="442.50" r="2.15" fill="#ff0000"/>
<circle cx="93.90" cy="415.80" r="2.15" fill="#00ff00"/>
<circle cx="94.00" cy="429.70" r="2.15" fill="#00ff00"/>
<circle cx="94.30" cy="371.90" r="2.15" fill="#0000ff"/>
<circle cx="95.50" cy="423.90" r="2.15" fill="#0000ff"/>
<circle cx="95.60" cy="418.50" r="2.15" fill="#0000ff"/>
<circle cx="96.30" cy="405.80" r="2.15" fill="#ff0000"/>
<circle cx="96.60" cy="438.80" r="2.15" fill="#00ff00"/>
<circle cx="97.10" cy="378.80" r="2.15" fill="#0000ff"/>
<circle cx="97.10" cy="420.10" r="2.15" fill="#ff0000"/>
<circle cx="98.00" cy="436.80" r="2.15" fill="#ff0000"/>
<circle cx="98.30" cy="418.70" r="2.15" fill="#00ff00"/>
<circle cx="98.50" cy="355.90" r="2.15" fill="#0000ff"/>
<circle cx="99.20" cy="384.80" r="2.15" fill="#0000ff"/>
<circle cx="99.30" cy="433.00" r="2.15" fill="#00ff00"/>
<circle cx="99.30" cy="432.10" r="2.15" fill="#ff0000"/>
<circle cx="100.20" cy="439.00" r="2.15" fill="#00ff00"/>
<circle cx="100.20" cy="461.60" r="2.15" fill="#ff0000"/>
<circle cx="101.10" cy="374.40" r="2.15" fill="#0000ff"/>
<circle cx="101.20" cy="424.90" r="2.15" fill="#00ff00"/>
<circle cx="101.90" cy="456.00" r="2.15" fill="#ff0000"/>
<circle cx="102.10" cy="399.10" r="2.15" fill="#0000ff"/>
<circle cx="103.10" cy="428.00" r="2.15" fill="#0000ff"/>
<circle cx="103.30" cy="448.60" r="2.15" fill="#00ff00"/>
<circle cx="104.20" cy="393.50" r="2.15" fill="#0000ff"/>
<circle cx="104.40" cy="454.60" r="2.15" fill="#ff0000"/>
<circle cx="105.00" cy="415.00" r="2.15" fill="#00ff00"/>
<circle cx="105.20" cy="432.80" r="2.15" fill="#ff0000"/>
<circle cx="105.30" cy="372.30" r="2.15" fill="#0000ff"/>
<circle cx="106.00" cy="379.40" r="2.15" fill="#0000ff"/>
<circle cx="106.00" cy="436.70" r="2.15" fill="#ff0000"/>
<circle cx="106.20" cy="418.70" r="2.15" fill="#00ff00"/>
<circle cx="107.10" cy="401.20" r="2.15" fill="#ff0000"/>
<circle cx="108.10" cy="383.90" r="2.15" fill="#0000ff"/>
<circle cx="108.20" cy="447.90" r="2.15" fill="#ff0000"/>
<circle cx="108.30" cy="429.70" r="2.15" fill="#00ff00"/>
<circle cx="108.60" cy="415.30" r="2.15" fill="#0000ff"/>
<circle cx="109.00" cy="427.10" r="2.15" fill="#ff0000"/>
<circle cx="109.10" cy="381.80" r="2.15" fill="#00ff00"/>
<circle cx="109.50" cy="417.20" r="2.15" fill="#0000ff"/>
<circle cx="111.00" cy="415.00" r="2.15" fill="#0000ff"/>
<circle cx="111.00" cy="409.60" r="2.15" fill="#ff0000"/>
<circle cx="111.40" cy="421.70" r="2.15" fill="#00ff00"/>
<circle cx="111.90" cy="433.50" r="2.15" fill="#00ff00"/>
<circle cx="112.30" cy="386.10" r="2.15" fill="#0000ff"/>
<circle cx="113.20" cy="383.60" r="2.15" fill="#0000ff"/>
<circle cx="113.90" cy="370.70" r="2.15" fill="#0000ff"/>
<circle cx="115.10" cy="431.90" r="2.15" fill="#00ff00"/>
<circle cx="115.40" cy="371.30" r="2.15" fill="#0000ff"/>
<circle cx="115.80" cy="447.70" r="2.15" fill="#ff0000"/>
<circle cx="116.00" cy="407.00" r="2.15" fill="#0000ff"/>
<circle cx="116.70" cy="419.20" r="2.15" fill="#00ff00"/>
<circle cx="116.80" cy="389.30" r="2.15" fill="#0000ff"/>
<circle cx="117.60" cy="414.90" r="2.15" fill="#ff0000"/>
<circle cx="118.10" cy="434.90" r="2.15" fill="#0000ff"/>
<circle cx="118.10" cy="420.60" r="2.15" fill="#00ff00"/>
<circle cx="119.00" cy="384.10" r="2.15" fill="#0000ff"/>
<circle cx="120.30" cy="390.00" r="2.15" fill="#0000ff"/>
<circle cx="120.30" cy="414.70" r="2.15" fill="#00ff00"/>
<circle cx="120.50" cy="427.80" r="2.15" fill="#ff0000"/>
<circle cx="120.90" cy="376.60" r="2.15" fill="#0000ff"/>
<circle cx="121.90" cy="407.70" r="2.15" fill="#00ff00"/>
<circle cx="122.30" cy="374.10" r="2.15" fill="#0000ff"/>
<circle cx="123.20" cy="427.30" r="2.15" fill="#00ff00"/>
<circle cx="123.90" cy="413.90" r="2.15" fill="#00ff00"/>
<circle cx="124.30" cy="409.60" r="2.15" fill="#0000ff"/>
<circle cx="124.30" cy="429.00" r="2.15" fill="#ff0000"/>
<circle cx="124.80" cy="396.90" r="2.15" fill="#0000ff"/>
<circle cx="124.80" cy="436.40" r="2.15" fill="#ff0000"/>
<circle cx="125.10" cy="433.00" r="2.15" fill="#00ff00"/>
<circle cx="126.20" cy="410.60" r="2.15" fill="#0000ff"/>
<circle cx="127.00" cy="423.70" r="2.15" fill="#0000ff"/>
<circle cx="127.00" cy="416.80" r="2.15" fill="#00ff00"/>
<circle cx="127.20" cy="434.20" r="2.15" fill="#ff0000"/>
<circle cx="128.10" cy="451.60" r="2.15" fill="#ff0000"/>
<circle cx="128.80" cy="460.50" r="2.15" fill="#ff0000"/>
<circle cx="129.10" cy="415.30" r="2.15" fill="#0000ff"/>
<circle cx="129.90" cy="430.90" r="2.15" fill="#00ff00"/>
<circle cx="130.10" cy="442.10" r="2.15" fill="#0000ff"/>
<circle cx="130.10" cy="439.90" r="2.15" fill="#ff0000"/>
<circle cx="130.80" cy="360.70" r="2.15" fill="#0000ff"/>
<circle cx="131.80" cy="421.10" r="2.15" fill="#00ff00"/>
<circle cx="132.00" cy="408.80" r="2.15" fill="#0000ff"/>
<circle cx="132.90" cy="401.00" r="2.15" fill="#0000ff"/>
<circle cx="133.90" cy="373.90" r="2.15" fill="#0000ff"/>
<circle cx="133.90" cy="434.70" r="2.15" fill="#ff0000"/>
<circle cx="134.10" cy="427.30" r="2.15" fill="#00ff00"/>
<circle cx="134.80" cy="413.70" r="2.15" fill="#0000ff"/>
<circle cx="136.30" cy="428.70" r="2.15" fill="#00ff00"/>
<circle cx="137.20" cy="402.00" r="2.15" fill="#0000ff"/>
<circle cx="137.70" cy="419.80" r="2.15" fill="#00ff00"/>
<circle cx="139.10" cy="401.00" r="2.15" fill="#0000ff"/>
<circle cx="139.60" cy="427.30" r="2.15" fill="#ff0000"/>
<circle cx="140.10" cy="405.30" r="2.15" fill="#0000ff"/>
<circle cx="140.10" cy="429.20" r="2.15" fill="#00ff00"/>
<circle cx="141.10" cy="419.20" r="2.15" fill="#00ff00"/>
<circle cx="142.00" cy="423.30" r="2.15" fill="#ff0000"/>
<circle cx="142.00" cy="431.10" r="2.15" fill="#ff0000"/>
<circle cx="142.30" cy="405.30" r="2.15" fill="#0000ff"/>
<circle cx="142.30" cy="420.60" r="2.15" fill="#00ff00"/>
<circle cx="142.80" cy="392.40" r="2.15" fill="#0000ff"/>
<circle cx="143.00" cy="412.50" r="2.15" fill="#00ff00"/>
<circle cx="144.40" cy="402.90" r="2.15" fill="#0000ff"/>
<circle cx="144.90" cy="432.80" r="2.15" fill="#00ff00"/>
<circle cx="145.40" cy="413.00" r="2.15" fill="#ff0000"/>
<circle cx="145.80" cy="383.90" r="2.15" fill="#0000ff"/>
<circle cx="145.80" cy="441.10" r="2.15" fill="#00ff00"/>
<circle cx="146.50" cy="445.80" r="2.15" fill="#00ff00"/>
<circle cx="146.80" cy="414.40" r="2.15" fill="#ff0000"/>
<circle cx="147.00" cy="391.80" r="2.15" fill="#0000ff"/>
<circle cx="148.00" cy="399.60" r="2.15" fill="#0000ff"/>
<circle cx="148.70" cy="407.70" r="2.15" fill="#0000ff"/>
<circle cx="148.70" cy="427.80" r="2.15" fill="#ff0000"/>
<circle cx="149.60" cy="429.10" r="2.15" fill="#00ff00"/>
<circle cx="150.10" cy="450.90" r="2.15" fill="#ff0000"/>
<circle cx="151.50" cy="342.50" r="2.15" fill="#0000ff"/>
<circle cx="151.70" cy="421.10" r="2.15" fill="#00ff00"/>
<circle cx="151.70" cy="436.70" r="2.15" fill="#ff0000"/>
<circle cx="151.95" cy="409.35" r="2.15" fill="#0000ff"/>
<circle cx="152.90" cy="403.40" r="2.15" fill="#0000ff"/>
<circle cx="153.80" cy="417.70" r="2.15" fill="#ff0000"/>
<circle cx="154.50" cy="441.80" r="2.15" fill="#ff0000"/>
<circle cx="154.80" cy="398.40" r="2.15" fill="#0000ff"/>
<circle cx="154.80" cy="410.60" r="2.15" fill="#00ff00"/>
<circle cx="155.30" cy="408.60" r="2.15" fill="#ff0000"/>
<circle cx="155.70" cy="413.40" r="2.15" fill="#0000ff"/>
<circle cx="157.60" cy="398.80" r="2.15" fill="#0000ff"/>
<circle cx="157.60" cy="409.90" r="2.15" fill="#00ff00"/>
<circle cx="157.60" cy="418.70" r="2.15" fill="#ff0000"/>
<circle cx="158.50" cy="391.40" r="2.15" fill="#0000ff"/>
<circle cx="159.60" cy="442.70" r="2.15" fill="#ff0000"/>
<circle cx="160.90" cy="450.20" r="2.15" fill="#ff0000"/>
<circle cx="161.00" cy="338.60" r="2.15" fill="#0000ff"/>
<circle cx="161.00" cy="419.80" r="2.15" fill="#00ff00"/>
<circle cx="162.00" cy="395.70" r="2.15" fill="#0000ff"/>
<circle cx="162.40" cy="430.20" r="2.15" fill="#ff0000"/>
<circle cx="162.90" cy="423.70" r="2.15" fill="#00ff00"/>
<circle cx="163.40" cy="389.30" r="2.15" fill="#0000ff"/>
<circle cx="163.40" cy="433.50" r="2.15" fill="#ff0000"/>
<circle cx="165.30" cy="393.80" r="2.15" fill="#0000ff"/>
<circle cx="165.30" cy="415.30" r="2.15" fill="#0000ff"/>
<circle cx="165.70" cy="469.50" r="2.15" fill="#ff0000"/>
<circle cx="166.70" cy="369.30" r="2.15" fill="#0000ff"/>
<circle cx="166.70" cy="415.00" r="2.15" fill="#00ff00"/>
<circle cx="166.70" cy="428.40" r="2.15" fill="#ff0000"/>
<circle cx="167.00" cy="391.20" r="2.15" fill="#0000ff"/>
<circle cx="168.60" cy="405.80" r="2.15" fill="#0000ff"/>
<circle cx="168.60" cy="420.10" r="2.15" fill="#00ff00"/>
<circle cx="168.60" cy="439.70" r="2.15" fill="#ff0000"/>
<circle cx="169.10" cy="412.50" r="2.15" fill="#0000ff"/>
<circle cx="169.10" cy="421.50" r="2.15" fill="#00ff00"/>
<circle cx="169.60" cy="431.80" r="2.15" fill="#ff0000"/>
<circle cx="170.60" cy="410.10" r="2.15" fill="#00ff00"/>
<circle cx="170.60" cy="458.80" r="2.15" fill="#ff0000"/>
<circle cx="170.70" cy="387.80" r="2.15" fill="#0000ff"/>
<circle cx="171.50" cy="418.20" r="2.15" fill="#00ff00"/>
<circle cx="171.80" cy="403.40" r="2.15" fill="#0000ff"/>
<circle cx="172.50" cy="406.30" r="2.15" fill="#00ff00"/>
<circle cx="172.90" cy="412.90" r="2.15" fill="#ff0000"/>
<circle cx="173.40" cy="397.60" r="2.15" fill="#0000ff"/>
<circle cx="174.40" cy="417.20" r="2.15" fill="#00ff00"/>
<circle cx="174.80" cy="466.00" r="2.15" fill="#ff0000"/>
<circle cx="174.90" cy="400.30" r="2.15" fill="#0000ff"/>
<circle cx="175.60" cy="426.80" r="2.15" fill="#00ff00"/>
<circle cx="175.60" cy="411.50" r="2.15" fill="#ff0000"/>
<circle cx="176.80" cy="408.60" r="2.15" fill="#0000ff"/>
<circle cx="176.80" cy="440.90" r="2.15" fill="#00ff00"/>
<circle cx="176.80" cy="420.40" r="2.15" fill="#ff0000"/>
<circle cx="178.40" cy="376.10" r="2.15" fill="#0000ff"/>
<circle cx="178.60" cy="443.80" r="2.15" fill="#ff0000"/>
<circle cx="179.20" cy="347.30" r="2.15" fill="#0000ff"/>
<circle cx="179.20" cy="423.00" r="2.15" fill="#00ff00"/>
<circle cx="179.40" cy="426.30" r="2.15" fill="#ff0000"/>
<circle cx="180.60" cy="400.00" r="2.15" fill="#0000ff"/>
<circle cx="180.60" cy="463.20" r="2.15" fill="#ff0000"/>
<circle cx="181.10" cy="432.10" r="2.15" fill="#00ff00"/>
<circle cx="181.50" cy="403.40" r="2.15" fill="#0000ff"/>
<circle cx="181.70" cy="454.20" r="2.15" fill="#ff0000"/>
<circle cx="182.40" cy="449.00" r="2.15" fill="#ff0000"/>
<circle cx="182.50" cy="410.80" r="2.15" fill="#0000ff"/>
<circle cx="183.10" cy="472.00" r="2.15" fill="#ff0000"/>
<circle cx="184.60" cy="405.80" r="2.15" fill="#0000ff"/>
<circle cx="185.30" cy="387.20" r="2.15" fill="#0000ff"/>
<circle cx="185.40" cy="444.90" r="2.15" fill="#ff0000"/>
<circle cx="185.90" cy="422.00" r="2.15" fill="#0000ff"/>
<circle cx="186.30" cy="408.90" r="2.15" fill="#00ff00"/>
<circle cx="186.30" cy="425.20" r="2.15" fill="#ff0000"/>
<circle cx="187.30" cy="416.30" r="2.15" fill="#0000ff"/>
<circle cx="187.30" cy="439.70" r="2.15" fill="#ff0000"/>
<circle cx="188.20" cy="394.80" r="2.15" fill="#0000ff"/>
<circle cx="188.20" cy="415.00" r="2.15" fill="#ff0000"/>
<circle cx="188.70" cy="437.60" r="2.15" fill="#00ff00"/>
<circle cx="189.20" cy="422.50" r="2.15" fill="#00ff00"/>
<circle cx="189.20" cy="435.40" r="2.15" fill="#ff0000"/>
<circle cx="189.60" cy="390.60" r="2.15" fill="#0000ff"/>
<circle cx="190.60" cy="393.80" r="2.15" fill="#0000ff"/>
<circle cx="191.40" cy="391.40" r="2.15" fill="#0000ff"/>
<circle cx="192.10" cy="410.10" r="2.15" fill="#0000ff"/>
<circle cx="192.10" cy="416.60" r="2.15" fill="#00ff00"/>
<circle cx="192.20" cy="460.90" r="2.15" fill="#ff0000"/>
<circle cx="193.50" cy="434.70" r="2.15" fill="#00ff00"/>
<circle cx="193.50" cy="425.60" r="2.15" fill="#ff0000"/>
<circle cx="194.00" cy="401.30" r="2.15" fill="#0000ff"/>
<circle cx="194.00" cy="411.20" r="2.15" fill="#00ff00"/>
<circle cx="194.50" cy="442.60" r="2.15" fill="#ff0000"/>
<circle cx="195.40" cy="407.70" r="2.15" fill="#0000ff"/>
<circle cx="196.70" cy="444.00" r="2.15" fill="#ff0000"/>
<circle cx="196.80" cy="402.90" r="2.15" fill="#0000ff"/>
<circle cx="196.80" cy="413.90" r="2.15" fill="#00ff00"/>
<circle cx="196.80" cy="431.10" r="2.15" fill="#00ff00"/>
<circle cx="197.80" cy="420.40" r="2.15" fill="#ff0000"/>
<circle cx="199.40" cy="469.60" r="2.15" fill="#ff0000"/>
<circle cx="199.50" cy="404.10" r="2.15" fill="#0000ff"/>
<circle cx="200.20" cy="424.90" r="2.15" fill="#00ff00"/>
<circle cx="200.20" cy="415.60" r="2.15" fill="#ff0000"/>
<circle cx="201.10" cy="440.20" r="2.15" fill="#ff0000"/>
<circle cx="202.10" cy="422.50" r="2.15" fill="#00ff00"/>
<circle cx="202.10" cy="432.50" r="2.15" fill="#ff0000"/>
<circle cx="202.40" cy="399.60" r="2.15" fill="#0000ff"/>
<circle cx="203.50" cy="420.60" r="2.15" fill="#00ff00"/>
<circle cx="203.60" cy="446.70" r="2.15" fill="#ff0000"/>
<circle cx="204.00" cy="434.90" r="2.15" fill="#ff0000"/>
<circle cx="204.30" cy="402.20" r="2.15" fill="#0000ff"/>
<circle cx="205.30" cy="484.50" r="2.15" fill="#ff0000"/>
<circle cx="205.40" cy="390.20" r="2.15" fill="#0000ff"/>
<circle cx="206.40" cy="416.30" r="2.15" fill="#0000ff"/>
<circle cx="206.40" cy="456.00" r="2.15" fill="#ff0000"/>
<circle cx="207.10" cy="463.00" r="2.15" fill="#ff0000"/>
<circle cx="207.40" cy="429.20" r="2.15" fill="#0000ff"/>
<circle cx="207.80" cy="420.60" r="2.15" fill="#0000ff"/>
<circle cx="207.80" cy="426.30" r="2.15" fill="#ff0000"/>
<circle cx="208.30" cy="422.00" r="2.15" fill="#00ff00"/>
<circle cx="209.30" cy="436.70" r="2.15" fill="#ff0000"/>
<circle cx="210.10" cy="449.00" r="2.15" fill="#00ff00"/>
<circle cx="210.10" cy="472.00" r="2.15" fill="#ff0000"/>
<circle cx="210.20" cy="431.10" r="2.15" fill="#0000ff"/>
<circle cx="211.60" cy="452.00" r="2.15" fill="#ff0000"/>
<circle cx="212.40" cy="406.10" r="2.15" fill="#0000ff"/>
<circle cx="212.40" cy="475.00" r="2.15" fill="#ff0000"/>
<circle cx="213.20" cy="413.00" r="2.15" fill="#00ff00"/>
<circle cx="213.20" cy="418.70" r="2.15" fill="#ff0000"/>
<circle cx="213.50" cy="421.70" r="2.15" fill="#0000ff"/>
<circle cx="213.70" cy="421.10" r="2.15" fill="#00ff00"/>
<circle cx="214.00" cy="396.90" r="2.15" fill="#0000ff"/>
<circle cx="215.40" cy="382.50" r="2.15" fill="#0000ff"/>
<circle cx="215.45" cy="451.45" r="2.15" fill="#ff0000"/>
<circle cx="218.20" cy="418.70" r="2.15" fill="#00ff00"/>
<circle cx="218.30" cy="385.10" r="2.15" fill="#0000ff"/>
<circle cx="218.30" cy="453.90" r="2.15" fill="#ff0000"/>
<circle cx="219.20" cy="417.70" r="2.15" fill="#0000ff"/>
<circle cx="219.20" cy="436.10" r="2.15" fill="#00ff00"/>
<circle cx="220.10" cy="402.40" r="2.15" fill="#0000ff"/>
<circle cx="221.00" cy="490.40" r="2.15" fill="#ff0000"/>
<circle cx="221.10" cy="420.40" r="2.15" fill="#00ff00"/>
<circle cx="221.40" cy="403.90" r="2.15" fill="#0000ff"/>
<circle cx="221.60" cy="433.00" r="2.15" fill="#ff0000"/>
<circle cx="222.00" cy="357.30" r="2.15" fill="#0000ff"/>
<circle cx="222.00" cy="429.00" r="2.15" fill="#00ff00"/>
<circle cx="223.30" cy="393.80" r="2.15" fill="#0000ff"/>
<circle cx="223.30" cy="424.20" r="2.15" fill="#00ff00"/>
<circle cx="223.50" cy="436.70" r="2.15" fill="#ff0000"/>
<circle cx="224.20" cy="374.50" r="2.15" fill="#0000ff"/>
<circle cx="224.20" cy="456.40" r="2.15" fill="#ff0000"/>
<circle cx="225.90" cy="444.80" r="2.15" fill="#ff0000"/>
<circle cx="226.80" cy="404.60" r="2.15" fill="#0000ff"/>
<circle cx="226.80" cy="434.00" r="2.15" fill="#ff0000"/>
<circle cx="228.00" cy="488.70" r="2.15" fill="#ff0000"/>
<circle cx="228.10" cy="412.50" r="2.15" fill="#00ff00"/>
<circle cx="229.00" cy="429.70" r="2.15" fill="#ff0000"/>
<circle cx="230.00" cy="335.80" r="2.15" fill="#0000ff"/>
<circle cx="230.00" cy="436.80" r="2.15" fill="#ff0000"/>
<circle cx="230.20" cy="415.00" r="2.15" fill="#00ff00"/>
<circle cx="230.60" cy="424.90" r="2.15" fill="#0000ff"/>
<circle cx="230.80" cy="481.20" r="2.15" fill="#ff0000"/>
<circle cx="231.80" cy="390.90" r="2.15" fill="#0000ff"/>
<circle cx="232.60" cy="420.60" r="2.15" fill="#00ff00"/>
<circle cx="233.00" cy="405.80" r="2.15" fill="#ff0000"/>
<circle cx="233.80" cy="402.00" r="2.15" fill="#00ff00"/>
<circle cx="233.80" cy="424.60" r="2.15" fill="#ff0000"/>
<circle cx="234.90" cy="378.00" r="2.15" fill="#0000ff"/>
<circle cx="234.90" cy="420.60" r="2.15" fill="#00ff00"/>
<circle cx="234.90" cy="417.70" r="2.15" fill="#ff0000"/>
<circle cx="235.90" cy="450.40" r="2.15" fill="#ff0000"/>
<circle cx="236.00" cy="384.50" r="2.15" fill="#0000ff"/>
<circle cx="236.70" cy="426.10" r="2.15" fill="#0000ff"/>
<circle cx="236.80" cy="495.40" r="2.15" fill="#ff0000"/>
<circle cx="236.90" cy="423.70" r="2.15" fill="#00ff00"/>
<circle cx="237.70" cy="446.70" r="2.15" fill="#ff0000"/>
<circle cx="238.00" cy="404.50" r="2.15" fill="#0000ff"/>
<circle cx="238.80" cy="440.20" r="2.15" fill="#ff0000"/>
<circle cx="239.00" cy="416.30" r="2.15" fill="#00ff00"/>
<circle cx="239.90" cy="427.50" r="2.15" fill="#00ff00"/>
<circle cx="240.00" cy="443.80" r="2.15" fill="#ff0000"/>
<circle cx="241.20" cy="437.60" r="2.15" fill="#00ff00"/>
<circle cx="242.10" cy="342.70" r="2.15" fill="#0000ff"/>
<circle cx="242.80" cy="422.50" r="2.15" fill="#00ff00"/>
<circle cx="242.90" cy="455.30" r="2.15" fill="#ff0000"/>
<circle cx="243.10" cy="408.00" r="2.15" fill="#0000ff"/>
<circle cx="243.90" cy="380.00" r="2.15" fill="#0000ff"/>
<circle cx="244.00" cy="426.80" r="2.15" fill="#ff0000"/>
<circle cx="244.50" cy="404.30" r="2.15" fill="#0000ff"/>
<circle cx="245.00" cy="435.40" r="2.15" fill="#ff0000"/>
<circle cx="245.90" cy="417.90" r="2.15" fill="#00ff00"/>
<circle cx="246.00" cy="492.90" r="2.15" fill="#ff0000"/>
<circle cx="246.10" cy="355.00" r="2.15" fill="#0000ff"/>
<circle cx="246.90" cy="432.10" r="2.15" fill="#ff0000"/>
<circle cx="247.90" cy="401.30" r="2.15" fill="#0000ff"/>
<circle cx="247.90" cy="427.30" r="2.15" fill="#00ff00"/>
<circle cx="248.80" cy="405.30" r="2.15" fill="#0000ff"/>
<circle cx="248.80" cy="420.80" r="2.15" fill="#00ff00"/>
<circle cx="248.90" cy="465.30" r="2.15" fill="#ff0000"/>
<circle cx="249.80" cy="409.10" r="2.15" fill="#0000ff"/>
<circle cx="249.90" cy="460.20" r="2.15" fill="#ff0000"/>
<circle cx="250.70" cy="446.70" r="2.15" fill="#ff0000"/>
<circle cx="252.20" cy="398.80" r="2.15" fill="#0000ff"/>
<circle cx="252.40" cy="448.10" r="2.15" fill="#ff0000"/>
<circle cx="252.80" cy="455.00" r="2.15" fill="#ff0000"/>
<circle cx="252.90" cy="408.00" r="2.15" fill="#00ff00"/>
<circle cx="253.60" cy="428.20" r="2.15" fill="#ff0000"/>
<circle cx="253.90" cy="434.00" r="2.15" fill="#00ff00"/>
<circle cx="254.50" cy="439.20" r="2.15" fill="#ff0000"/>
<circle cx="254.80" cy="422.50" r="2.15" fill="#00ff00"/>
<circle cx="255.80" cy="374.50" r="2.15" fill="#0000ff"/>
<circle cx="256.20" cy="435.90" r="2.15" fill="#ff0000"/>
<circle cx="256.40" cy="391.80" r="2.15" fill="#0000ff"/>
<circle cx="256.90" cy="425.90" r="2.15" fill="#00ff00"/>
<circle cx="257.90" cy="379.70" r="2.15" fill="#0000ff"/>
<circle cx="257.90" cy="417.00" r="2.15" fill="#00ff00"/>
<circle cx="257.90" cy="441.10" r="2.15" fill="#ff0000"/>
<circle cx="258.80" cy="408.60" r="2.15" fill="#00ff00"/>
<circle cx="258.80" cy="431.90" r="2.15" fill="#ff0000"/>
<circle cx="259.60" cy="421.50" r="2.15" fill="#0000ff"/>
<circle cx="259.80" cy="420.80" r="2.15" fill="#00ff00"/>
<circle cx="262.70" cy="415.00" r="2.15" fill="#0000ff"/>
<circle cx="262.70" cy="435.70" r="2.15" fill="#ff0000"/>
<circle cx="263.50" cy="464.60" r="2.15" fill="#ff0000"/>
<circle cx="263.60" cy="399.80" r="2.15" fill="#0000ff"/>
<circle cx="263.80" cy="442.10" r="2.15" fill="#00ff00"/>
<circle cx="264.40" cy="394.60" r="2.15" fill="#0000ff"/>
<circle cx="265.10" cy="427.30" r="2.15" fill="#00ff00"/>
<circle cx="266.00" cy="431.90" r="2.15" fill="#00ff00"/>
<circle cx="266.50" cy="403.90" r="2.15" fill="#00ff00"/>
<circle cx="267.00" cy="394.30" r="2.15" fill="#0000ff"/>
<circle cx="267.20" cy="443.60" r="2.15" fill="#ff0000"/>
<circle cx="267.40" cy="424.10" r="2.15" fill="#0000ff"/>
<circle cx="268.40" cy="450.00" r="2.15" fill="#ff0000"/>
<circle cx="269.60" cy="370.80" r="2.15" fill="#0000ff"/>
<circle cx="269.80" cy="402.20" r="2.15" fill="#ff0000"/>
<circle cx="270.50" cy="405.80" r="2.15" fill="#ff0000"/>
<circle cx="270.80" cy="424.90" r="2.15" fill="#00ff00"/>
<circle cx="271.20" cy="448.60" r="2.15" fill="#ff0000"/>
<circle cx="271.80" cy="412.90" r="2.15" fill="#0000ff"/>
<circle cx="271.80" cy="408.60" r="2.15" fill="#00ff00"/>
<circle cx="272.60" cy="366.50" r="2.15" fill="#0000ff"/>
<circle cx="272.70" cy="432.30" r="2.15" fill="#00ff00"/>
<circle cx="273.00" cy="447.90" r="2.15" fill="#ff0000"/>
<circle cx="273.70" cy="422.50" r="2.15" fill="#0000ff"/>
<circle cx="274.40" cy="441.10" r="2.15" fill="#ff0000"/>
<circle cx="275.65" cy="400.50" r="2.15" fill="#00ff00"/>
<circle cx="275.80" cy="415.30" r="2.15" fill="#ff0000"/>
<circle cx="276.30" cy="404.10" r="2.15" fill="#ff0000"/>
<circle cx="276.90" cy="478.30" r="2.15" fill="#ff0000"/>
<circle cx="276.95" cy="423.50" r="2.15" fill="#0000ff"/>
<circle cx="277.40" cy="400.30" r="2.15" fill="#0000ff"/>
<circle cx="278.30" cy="443.10" r="2.15" fill="#ff0000"/>
<circle cx="279.20" cy="476.20" r="2.15" fill="#ff0000"/>
<circle cx="279.30" cy="434.80" r="2.15" fill="#00ff00"/>
<circle cx="279.60" cy="413.40" r="2.15" fill="#0000ff"/>
<circle cx="280.60" cy="467.80" r="2.15" fill="#ff0000"/>
<circle cx="281.30" cy="466.20" r="2.15" fill="#ff0000"/>
<circle cx="281.70" cy="403.90" r="2.15" fill="#0000ff"/>
<circle cx="282.70" cy="438.60" r="2.15" fill="#ff0000"/>
<circle cx="283.10" cy="423.00" r="2.15" fill="#0000ff"/>
<circle cx="283.40" cy="456.70" r="2.15" fill="#ff0000"/>
<circle cx="284.50" cy="386.90" r="2.15" fill="#0000ff"/>
<circle cx="284.50" cy="458.80" r="2.15" fill="#ff0000"/>
<circle cx="284.60" cy="413.90" r="2.15" fill="#00ff00"/>
<circle cx="285.70" cy="372.10" r="2.15" fill="#0000ff"/>
<circle cx="285.90" cy="472.00" r="2.15" fill="#ff0000"/>
<circle cx="286.30" cy="421.80" r="2.15" fill="#00ff00"/>
<circle cx="286.60" cy="378.00" r="2.15" fill="#0000ff"/>
<circle cx="286.80" cy="466.70" r="2.15" fill="#ff0000"/>
<circle cx="287.40" cy="412.80" r="2.15" fill="#0000ff"/>
<circle cx="287.40" cy="382.90" r="2.15" fill="#00ff00"/>
<circle cx="288.40" cy="411.50" r="2.15" fill="#0000ff"/>
<circle cx="288.40" cy="425.60" r="2.15" fill="#ff0000"/>
<circle cx="289.40" cy="439.80" r="2.15" fill="#ff0000"/>
<circle cx="290.30" cy="462.00" r="2.15" fill="#ff0000"/>
<circle cx="290.60" cy="384.90" r="2.15" fill="#0000ff"/>
<circle cx="291.40" cy="459.50" r="2.15" fill="#ff0000"/>
<circle cx="291.50" cy="405.10" r="2.15" fill="#0000ff"/>
<circle cx="291.70" cy="416.80" r="2.15" fill="#00ff00"/>
<circle cx="292.20" cy="412.50" r="2.15" fill="#0000ff"/>
<circle cx="292.40" cy="421.60" r="2.15" fill="#00ff00"/>
<circle cx="292.40" cy="456.40" r="2.15" fill="#ff0000"/>
<circle cx="293.30" cy="367.50" r="2.15" fill="#0000ff"/>
<circle cx="293.70" cy="424.60" r="2.15" fill="#ff0000"/>
<circle cx="294.10" cy="431.30" r="2.15" fill="#00ff00"/>
<circle cx="294.50" cy="346.70" r="2.15" fill="#0000ff"/>
<circle cx="294.50" cy="447.20" r="2.15" fill="#ff0000"/>
<circle cx="295.60" cy="435.00" r="2.15" fill="#00ff00"/>
<circle cx="295.60" cy="456.40" r="2.15" fill="#ff0000"/>
<circle cx="295.70" cy="376.30" r="2.15" fill="#0000ff"/>
<circle cx="296.20" cy="476.60" r="2.15" fill="#ff0000"/>
<circle cx="296.50" cy="404.80" r="2.15" fill="#0000ff"/>
<circle cx="296.50" cy="418.20" r="2.15" fill="#00ff00"/>
<circle cx="298.40" cy="425.60" r="2.15" fill="#00ff00"/>
<circle cx="298.70" cy="390.60" r="2.15" fill="#0000ff"/>
<circle cx="298.70" cy="469.00" r="2.15" fill="#ff0000"/>
<circle cx="299.40" cy="401.70" r="2.15" fill="#0000ff"/>
<circle cx="299.40" cy="449.50" r="2.15" fill="#ff0000"/>
<circle cx="300.60" cy="423.00" r="2.15" fill="#0000ff"/>
<circle cx="301.40" cy="373.20" r="2.15" fill="#0000ff"/>
<circle cx="301.50" cy="450.90" r="2.15" fill="#ff0000"/>
<circle cx="302.30" cy="412.80" r="2.15" fill="#0000ff"/>
<circle cx="302.30" cy="422.10" r="2.15" fill="#00ff00"/>
<circle cx="303.20" cy="398.40" r="2.15" fill="#0000ff"/>
<circle cx="304.20" cy="437.80" r="2.15" fill="#00ff00"/>
<circle cx="304.50" cy="404.50" r="2.15" fill="#ff0000"/>
<circle cx="304.70" cy="422.10" r="2.15" fill="#0000ff"/>
<circle cx="305.20" cy="366.80" r="2.15" fill="#0000ff"/>
<circle cx="305.30" cy="487.30" r="2.15" fill="#ff0000"/>
<circle cx="306.10" cy="417.30" r="2.15" fill="#0000ff"/>
<circle cx="307.00" cy="476.50" r="2.15" fill="#ff0000"/>
<circle cx="307.50" cy="411.80" r="2.15" fill="#00ff00"/>
<circle cx="308.50" cy="409.90" r="2.15" fill="#0000ff"/>
<circle cx="308.50" cy="423.00" r="2.15" fill="#00ff00"/>
<circle cx="309.00" cy="420.60" r="2.15" fill="#00ff00"/>
<circle cx="310.40" cy="425.90" r="2.15" fill="#00ff00"/>
<circle cx="311.20" cy="429.00" r="2.15" fill="#00ff00"/>
<circle cx="311.20" cy="452.80" r="2.15" fill="#ff0000"/>
<circle cx="312.30" cy="399.60" r="2.15" fill="#0000ff"/>
<circle cx="312.80" cy="443.60" r="2.15" fill="#ff0000"/>
<circle cx="313.30" cy="398.80" r="2.15" fill="#0000ff"/>
<circle cx="314.00" cy="425.60" r="2.15" fill="#00ff00"/>
<circle cx="314.70" cy="446.70" r="2.15" fill="#ff0000"/>
<circle cx="314.70" cy="449.50" r="2.15" fill="#ff0000"/>
<circle cx="315.20" cy="391.80" r="2.15" fill="#0000ff"/>
<circle cx="316.10" cy="431.00" r="2.15" fill="#00ff00"/>
<circle cx="316.10" cy="442.40" r="2.15" fill="#ff0000"/>
<circle cx="316.40" cy="389.40" r="2.15" fill="#0000ff"/>
<circle cx="317.10" cy="407.20" r="2.15" fill="#0000ff"/>
<circle cx="317.10" cy="436.70" r="2.15" fill="#00ff00"/>
<circle cx="318.20" cy="380.20" r="2.15" fill="#0000ff"/>
<circle cx="318.50" cy="423.50" r="2.15" fill="#00ff00"/>
<circle cx="319.00" cy="397.20" r="2.15" fill="#0000ff"/>
<circle cx="319.20" cy="425.60" r="2.15" fill="#00ff00"/>
<circle cx="319.20" cy="432.10" r="2.15" fill="#ff0000"/>
<circle cx="320.20" cy="410.90" r="2.15" fill="#ff0000"/>
<circle cx="320.70" cy="428.30" r="2.15" fill="#00ff00"/>
<circle cx="321.10" cy="398.10" r="2.15" fill="#ff0000"/>
<circle cx="321.30" cy="389.70" r="2.15" fill="#00ff00"/>
<circle cx="321.40" cy="430.20" r="2.15" fill="#0000ff"/>
<circle cx="321.90" cy="374.80" r="2.15" fill="#0000ff"/>
<circle cx="322.10" cy="418.50" r="2.15" fill="#ff0000"/>
<circle cx="323.00" cy="454.60" r="2.15" fill="#ff0000"/>
<circle cx="323.50" cy="368.70" r="2.15" fill="#0000ff"/>
<circle cx="323.80" cy="428.30" r="2.15" fill="#00ff00"/>
<circle cx="324.10" cy="342.20" r="2.15" fill="#0000ff"/>
<circle cx="324.40" cy="452.30" r="2.15" fill="#ff0000"/>
<circle cx="325.20" cy="406.50" r="2.15" fill="#0000ff"/>
<circle cx="326.20" cy="427.50" r="2.15" fill="#00ff00"/>
<circle cx="326.70" cy="411.50" r="2.15" fill="#0000ff"/>
<circle cx="326.70" cy="420.80" r="2.15" fill="#ff0000"/>
<circle cx="327.20" cy="415.80" r="2.15" fill="#00ff00"/>
<circle cx="327.70" cy="378.00" r="2.15" fill="#0000ff"/>
<circle cx="327.80" cy="399.60" r="2.15" fill="#ff0000"/>
<circle cx="329.10" cy="418.50" r="2.15" fill="#00ff00"/>
<circle cx="329.40" cy="428.80" r="2.15" fill="#ff0000"/>
<circle cx="330.00" cy="369.00" r="2.15" fill="#00ff00"/>
<circle cx="330.00" cy="386.10" r="2.15" fill="#ff0000"/>
<circle cx="330.50" cy="399.60" r="2.15" fill="#0000ff"/>
<circle cx="331.00" cy="374.20" r="2.15" fill="#0000ff"/>
<circle cx="331.50" cy="423.00" r="2.15" fill="#00ff00"/>
<circle cx="331.80" cy="467.80" r="2.15" fill="#ff0000"/>
<circle cx="331.90" cy="411.20" r="2.15" fill="#00ff00"/>
<circle cx="332.20" cy="400.30" r="2.15" fill="#0000ff"/>
<circle cx="332.40" cy="426.20" r="2.15" fill="#0000ff"/>
<circle cx="333.20" cy="459.20" r="2.15" fill="#ff0000"/>
<circle cx="334.10" cy="411.80" r="2.15" fill="#0000ff"/>
<circle cx="334.10" cy="428.10" r="2.15" fill="#ff0000"/>
<circle cx="334.30" cy="424.00" r="2.15" fill="#00ff00"/>
<circle cx="334.70" cy="388.80" r="2.15" fill="#0000ff"/>
<circle cx="335.10" cy="418.70" r="2.15" fill="#00ff00"/>
<circle cx="335.10" cy="442.20" r="2.15" fill="#ff0000"/>
<circle cx="335.90" cy="366.20" r="2.15" fill="#0000ff"/>
<circle cx="337.00" cy="516.30" r="2.15" fill="#ff0000"/>
<circle cx="337.10" cy="389.70" r="2.15" fill="#0000ff"/>
<circle cx="337.70" cy="431.60" r="2.15" fill="#0000ff"/>
<circle cx="337.90" cy="473.00" r="2.15" fill="#ff0000"/>
<circle cx="338.20" cy="413.70" r="2.15" fill="#00ff00"/>
<circle cx="339.30" cy="446.70" r="2.15" fill="#ff0000"/>
<circle cx="339.70" cy="505.00" r="2.15" fill="#ff0000"/>
<circle cx="340.10" cy="398.80" r="2.15" fill="#0000ff"/>
<circle cx="340.10" cy="415.10" r="2.15" fill="#00ff00"/>
<circle cx="340.70" cy="456.00" r="2.15" fill="#ff0000"/>
<circle cx="340.80" cy="358.00" r="2.15" fill="#0000ff"/>
<circle cx="341.00" cy="405.80" r="2.15" fill="#00ff00"/>
<circle cx="341.80" cy="440.70" r="2.15" fill="#00ff00"/>
<circle cx="342.00" cy="391.20" r="2.15" fill="#0000ff"/>
<circle cx="342.00" cy="444.10" r="2.15" fill="#ff0000"/>
<circle cx="343.20" cy="389.40" r="2.15" fill="#00ff00"/>
<circle cx="343.90" cy="429.20" r="2.15" fill="#00ff00"/>
<circle cx="343.90" cy="449.50" r="2.15" fill="#ff0000"/>
<circle cx="344.40" cy="412.50" r="2.15" fill="#00ff00"/>
<circle cx="344.70" cy="421.60" r="2.15" fill="#0000ff"/>
<rect x="88.50" y="323.00" width="257.40" height="196.70" fill="none" stroke="#0a0a0a" stroke-width="1.05"/>
<text transform="translate(201.91,571.00) scale(1.03,1)" font-size="16.0" stroke="#000" stroke-width="0.22">Day</text>
<text transform="translate(16.70,419.50) rotate(-90)" font-size="16" text-anchor="middle" textLength="95.7" lengthAdjust="spacingAndGlyphs" stroke="#000" stroke-width="0.22">Current [1/h]</text>
<text transform="translate(6.61,308.30) scale(0.92,1)" font-size="19.0" stroke="#000" stroke-width="0.22">c</text>
<line x1="492.59" y1="519.40" x2="492.59" y2="515.40" stroke="#777" stroke-width="1" />
<line x1="492.59" y1="320.40" x2="492.59" y2="324.40" stroke="#777" stroke-width="1" />
<line x1="507.67" y1="519.40" x2="507.67" y2="515.40" stroke="#777" stroke-width="1" />
<line x1="507.67" y1="320.40" x2="507.67" y2="324.40" stroke="#777" stroke-width="1" />
<line x1="518.38" y1="519.40" x2="518.38" y2="515.40" stroke="#777" stroke-width="1" />
<line x1="518.38" y1="320.40" x2="518.38" y2="324.40" stroke="#777" stroke-width="1" />
<line x1="526.68" y1="519.40" x2="526.68" y2="515.40" stroke="#777" stroke-width="1" />
<line x1="526.68" y1="320.40" x2="526.68" y2="324.40" stroke="#777" stroke-width="1" />
<line x1="533.46" y1="519.40" x2="533.46" y2="515.40" stroke="#777" stroke-width="1" />
<line x1="533.46" y1="320.40" x2="533.46" y2="324.40" stroke="#777" stroke-width="1" />
<line x1="539.20" y1="519.40" x2="539.20" y2="515.40" stroke="#777" stroke-width="1" />
<line x1="539.20" y1="320.40" x2="539.20" y2="324.40" stroke="#777" stroke-width="1" />
<line x1="544.17" y1="519.40" x2="544.17" y2="515.40" stroke="#777" stroke-width="1" />
<line x1="544.17" y1="320.40" x2="544.17" y2="324.40" stroke="#777" stroke-width="1" />
<line x1="548.55" y1="519.40" x2="548.55" y2="515.40" stroke="#777" stroke-width="1" />
<line x1="548.55" y1="320.40" x2="548.55" y2="324.40" stroke="#777" stroke-width="1" />
<line x1="552.47" y1="519.40" x2="552.47" y2="511.40" stroke="#333" stroke-width="1" />
<line x1="552.47" y1="320.40" x2="552.47" y2="328.40" stroke="#333" stroke-width="1" />
<line x1="578.26" y1="519.40" x2="578.26" y2="515.40" stroke="#777" stroke-width="1" />
<line x1="578.26" y1="320.40" x2="578.26" y2="324.40" stroke="#777" stroke-width="1" />
<line x1="593.34" y1="519.40" x2="593.34" y2="515.40" stroke="#777" stroke-width="1" />
<line x1="593.34" y1="320.40" x2="593.34" y2="324.40" stroke="#777" stroke-width="1" />
<line x1="604.05" y1="519.40" x2="604.05" y2="515.40" stroke="#777" stroke-width="1" />
<line x1="604.05" y1="320.40" x2="604.05" y2="324.40" stroke="#777" stroke-width="1" />
<line x1="612.35" y1="519.40" x2="612.35" y2="515.40" stroke="#777" stroke-width="1" />
<line x1="612.35" y1="320.40" x2="612.35" y2="324.40" stroke="#777" stroke-width="1" />
<line x1="619.13" y1="519.40" x2="619.13" y2="515.40" stroke="#777" stroke-width="1" />
<line x1="619.13" y1="320.40" x2="619.13" y2="324.40" stroke="#777" stroke-width="1" />
<line x1="624.87" y1="519.40" x2="624.87" y2="515.40" stroke="#777" stroke-width="1" />
<line x1="624.87" y1="320.40" x2="624.87" y2="324.40" stroke="#777" stroke-width="1" />
<line x1="629.84" y1="519.40" x2="629.84" y2="515.40" stroke="#777" stroke-width="1" />
<line x1="629.84" y1="320.40" x2="629.84" y2="324.40" stroke="#777" stroke-width="1" />
<line x1="634.22" y1="519.40" x2="634.22" y2="515.40" stroke="#777" stroke-width="1" />
<line x1="634.22" y1="320.40" x2="634.22" y2="324.40" stroke="#777" stroke-width="1" />
<line x1="638.14" y1="519.40" x2="638.14" y2="511.40" stroke="#333" stroke-width="1" />
<line x1="638.14" y1="320.40" x2="638.14" y2="328.40" stroke="#333" stroke-width="1" />
<line x1="663.93" y1="519.40" x2="663.93" y2="515.40" stroke="#777" stroke-width="1" />
<line x1="663.93" y1="320.40" x2="663.93" y2="324.40" stroke="#777" stroke-width="1" />
<line x1="679.01" y1="519.40" x2="679.01" y2="515.40" stroke="#777" stroke-width="1" />
<line x1="679.01" y1="320.40" x2="679.01" y2="324.40" stroke="#777" stroke-width="1" />
<line x1="689.72" y1="519.40" x2="689.72" y2="515.40" stroke="#777" stroke-width="1" />
<line x1="689.72" y1="320.40" x2="689.72" y2="324.40" stroke="#777" stroke-width="1" />
<line x1="698.02" y1="519.40" x2="698.02" y2="515.40" stroke="#777" stroke-width="1" />
<line x1="698.02" y1="320.40" x2="698.02" y2="324.40" stroke="#777" stroke-width="1" />
<line x1="704.80" y1="519.40" x2="704.80" y2="515.40" stroke="#777" stroke-width="1" />
<line x1="704.80" y1="320.40" x2="704.80" y2="324.40" stroke="#777" stroke-width="1" />
<line x1="710.54" y1="519.40" x2="710.54" y2="515.40" stroke="#777" stroke-width="1" />
<line x1="710.54" y1="320.40" x2="710.54" y2="324.40" stroke="#777" stroke-width="1" />
<line x1="715.51" y1="519.40" x2="715.51" y2="515.40" stroke="#777" stroke-width="1" />
<line x1="715.51" y1="320.40" x2="715.51" y2="324.40" stroke="#777" stroke-width="1" />
<line x1="719.89" y1="519.40" x2="719.89" y2="515.40" stroke="#777" stroke-width="1" />
<line x1="719.89" y1="320.40" x2="719.89" y2="324.40" stroke="#777" stroke-width="1" />
<line x1="723.81" y1="519.40" x2="723.81" y2="511.40" stroke="#333" stroke-width="1" />
<line x1="723.81" y1="320.40" x2="723.81" y2="328.40" stroke="#333" stroke-width="1" />
<line x1="466.80" y1="507.42" x2="470.80" y2="507.42" stroke="#777" stroke-width="1" />
<line x1="749.40" y1="507.42" x2="745.40" y2="507.42" stroke="#777" stroke-width="1" />
<line x1="466.80" y1="500.41" x2="470.80" y2="500.41" stroke="#777" stroke-width="1" />
<line x1="749.40" y1="500.41" x2="745.40" y2="500.41" stroke="#777" stroke-width="1" />
<line x1="466.80" y1="495.44" x2="470.80" y2="495.44" stroke="#777" stroke-width="1" />
<line x1="749.40" y1="495.44" x2="745.40" y2="495.44" stroke="#777" stroke-width="1" />
<line x1="466.80" y1="491.58" x2="470.80" y2="491.58" stroke="#777" stroke-width="1" />
<line x1="749.40" y1="491.58" x2="745.40" y2="491.58" stroke="#777" stroke-width="1" />
<line x1="466.80" y1="488.43" x2="470.80" y2="488.43" stroke="#777" stroke-width="1" />
<line x1="749.40" y1="488.43" x2="745.40" y2="488.43" stroke="#777" stroke-width="1" />
<line x1="466.80" y1="485.77" x2="470.80" y2="485.77" stroke="#777" stroke-width="1" />
<line x1="749.40" y1="485.77" x2="745.40" y2="485.77" stroke="#777" stroke-width="1" />
<line x1="466.80" y1="483.46" x2="470.80" y2="483.46" stroke="#777" stroke-width="1" />
<line x1="749.40" y1="483.46" x2="745.40" y2="483.46" stroke="#777" stroke-width="1" />
<line x1="466.80" y1="481.42" x2="470.80" y2="481.42" stroke="#777" stroke-width="1" />
<line x1="749.40" y1="481.42" x2="745.40" y2="481.42" stroke="#777" stroke-width="1" />
<line x1="466.80" y1="479.60" x2="474.80" y2="479.60" stroke="#333" stroke-width="1" />
<line x1="749.40" y1="479.60" x2="741.40" y2="479.60" stroke="#333" stroke-width="1" />
<line x1="466.80" y1="467.62" x2="470.80" y2="467.62" stroke="#777" stroke-width="1" />
<line x1="749.40" y1="467.62" x2="745.40" y2="467.62" stroke="#777" stroke-width="1" />
<line x1="466.80" y1="460.61" x2="470.80" y2="460.61" stroke="#777" stroke-width="1" />
<line x1="749.40" y1="460.61" x2="745.40" y2="460.61" stroke="#777" stroke-width="1" />
<line x1="466.80" y1="455.64" x2="470.80" y2="455.64" stroke="#777" stroke-width="1" />
<line x1="749.40" y1="455.64" x2="745.40" y2="455.64" stroke="#777" stroke-width="1" />
<line x1="466.80" y1="451.78" x2="470.80" y2="451.78" stroke="#777" stroke-width="1" />
<line x1="749.40" y1="451.78" x2="745.40" y2="451.78" stroke="#777" stroke-width="1" />
<line x1="466.80" y1="448.63" x2="470.80" y2="448.63" stroke="#777" stroke-width="1" />
<line x1="749.40" y1="448.63" x2="745.40" y2="448.63" stroke="#777" stroke-width="1" />
<line x1="466.80" y1="445.97" x2="470.80" y2="445.97" stroke="#777" stroke-width="1" />
<line x1="749.40" y1="445.97" x2="745.40" y2="445.97" stroke="#777" stroke-width="1" />
<line x1="466.80" y1="443.66" x2="470.80" y2="443.66" stroke="#777" stroke-width="1" />
<line x1="749.40" y1="443.66" x2="745.40" y2="443.66" stroke="#777" stroke-width="1" />
<line x1="466.80" y1="441.62" x2="470.80" y2="441.62" stroke="#777" stroke-width="1" />
<line x1="749.40" y1="441.62" x2="745.40" y2="441.62" stroke="#777" stroke-width="1" />
<line x1="466.80" y1="439.80" x2="474.80" y2="439.80" stroke="#333" stroke-width="1" />
<line x1="749.40" y1="439.80" x2="741.40" y2="439.80" stroke="#333" stroke-width="1" />
<line x1="466.80" y1="427.82" x2="470.80" y2="427.82" stroke="#777" stroke-width="1" />
<line x1="749.40" y1="427.82" x2="745.40" y2="427.82" stroke="#777" stroke-width="1" />
<line x1="466.80" y1="420.81" x2="470.80" y2="420.81" stroke="#777" stroke-width="1" />
<line x1="749.40" y1="420.81" x2="745.40" y2="420.81" stroke="#777" stroke-width="1" />
<line x1="466.80" y1="415.84" x2="470.80" y2="415.84" stroke="#777" stroke-width="1" />
<line x1="749.40" y1="415.84" x2="745.40" y2="415.84" stroke="#777" stroke-width="1" />
<line x1="466.80" y1="411.98" x2="470.80" y2="411.98" stroke="#777" stroke-width="1" />
<line x1="749.40" y1="411.98" x2="745.40" y2="411.98" stroke="#777" stroke-width="1" />
<line x1="466.80" y1="408.83" x2="470.80" y2="408.83" stroke="#777" stroke-width="1" />
<line x1="749.40" y1="408.83" x2="745.40" y2="408.83" stroke="#777" stroke-width="1" />
<line x1="466.80" y1="406.17" x2="470.80" y2="406.17" stroke="#777" stroke-width="1" />
<line x1="749.40" y1="406.17" x2="745.40" y2="406.17" stroke="#777" stroke-width="1" />
<line x1="466.80" y1="403.86" x2="470.80" y2="403.86" stroke="#777" stroke-width="1" />
<line x1="749.40" y1="403.86" x2="745.40" y2="403.86" stroke="#777" stroke-width="1" />
<line x1="466.80" y1="401.82" x2="470.80" y2="401.82" stroke="#777" stroke-width="1" />
<line x1="749.40" y1="401.82" x2="745.40" y2="401.82" stroke="#777" stroke-width="1" />
<line x1="466.80" y1="400.00" x2="474.80" y2="400.00" stroke="#333" stroke-width="1" />
<line x1="749.40" y1="400.00" x2="741.40" y2="400.00" stroke="#333" stroke-width="1" />
<line x1="466.80" y1="388.02" x2="470.80" y2="388.02" stroke="#777" stroke-width="1" />
<line x1="749.40" y1="388.02" x2="745.40" y2="388.02" stroke="#777" stroke-width="1" />
<line x1="466.80" y1="381.01" x2="470.80" y2="381.01" stroke="#777" stroke-width="1" />
<line x1="749.40" y1="381.01" x2="745.40" y2="381.01" stroke="#777" stroke-width="1" />
<line x1="466.80" y1="376.04" x2="470.80" y2="376.04" stroke="#777" stroke-width="1" />
<line x1="749.40" y1="376.04" x2="745.40" y2="376.04" stroke="#777" stroke-width="1" />
<line x1="466.80" y1="372.18" x2="470.80" y2="372.18" stroke="#777" stroke-width="1" />
<line x1="749.40" y1="372.18" x2="745.40" y2="372.18" stroke="#777" stroke-width="1" />
<line x1="466.80" y1="369.03" x2="470.80" y2="369.03" stroke="#777" stroke-width="1" />
<line x1="749.40" y1="369.03" x2="745.40" y2="369.03" stroke="#777" stroke-width="1" />
<line x1="466.80" y1="366.37" x2="470.80" y2="366.37" stroke="#777" stroke-width="1" />
<line x1="749.40" y1="366.37" x2="745.40" y2="366.37" stroke="#777" stroke-width="1" />
<line x1="466.80" y1="364.06" x2="470.80" y2="364.06" stroke="#777" stroke-width="1" />
<line x1="749.40" y1="364.06" x2="745.40" y2="364.06" stroke="#777" stroke-width="1" />
<line x1="466.80" y1="362.02" x2="470.80" y2="362.02" stroke="#777" stroke-width="1" />
<line x1="749.40" y1="362.02" x2="745.40" y2="362.02" stroke="#777" stroke-width="1" />
<line x1="466.80" y1="360.20" x2="474.80" y2="360.20" stroke="#333" stroke-width="1" />
<line x1="749.40" y1="360.20" x2="741.40" y2="360.20" stroke="#333" stroke-width="1" />
<line x1="466.80" y1="348.22" x2="470.80" y2="348.22" stroke="#777" stroke-width="1" />
<line x1="749.40" y1="348.22" x2="745.40" y2="348.22" stroke="#777" stroke-width="1" />
<line x1="466.80" y1="341.21" x2="470.80" y2="341.21" stroke="#777" stroke-width="1" />
<line x1="749.40" y1="341.21" x2="745.40" y2="341.21" stroke="#777" stroke-width="1" />
<line x1="466.80" y1="336.24" x2="470.80" y2="336.24" stroke="#777" stroke-width="1" />
<line x1="749.40" y1="336.24" x2="745.40" y2="336.24" stroke="#777" stroke-width="1" />
<line x1="466.80" y1="332.38" x2="470.80" y2="332.38" stroke="#777" stroke-width="1" />
<line x1="749.40" y1="332.38" x2="745.40" y2="332.38" stroke="#777" stroke-width="1" />
<line x1="466.80" y1="329.23" x2="470.80" y2="329.23" stroke="#777" stroke-width="1" />
<line x1="749.40" y1="329.23" x2="745.40" y2="329.23" stroke="#777" stroke-width="1" />
<line x1="466.80" y1="326.57" x2="470.80" y2="326.57" stroke="#777" stroke-width="1" />
<line x1="749.40" y1="326.57" x2="745.40" y2="326.57" stroke="#777" stroke-width="1" />
<line x1="466.80" y1="324.26" x2="470.80" y2="324.26" stroke="#777" stroke-width="1" />
<line x1="749.40" y1="324.26" x2="745.40" y2="324.26" stroke="#777" stroke-width="1" />
<line x1="466.80" y1="322.22" x2="470.80" y2="322.22" stroke="#777" stroke-width="1" />
<line x1="749.40" y1="322.22" x2="745.40" y2="322.22" stroke="#777" stroke-width="1" />
<text transform="translate(449.07,519.00) scale(0.97,1)" font-size="13.0" stroke="#000" stroke-width="0.28">6</text>
<text transform="translate(431.13,527.70) scale(0.9,1)" font-size="17.0" stroke="#000" stroke-width="0.35">10</text>
<text transform="translate(449.13,479.20) scale(0.97,1)" font-size="13.0" stroke="#000" stroke-width="0.28">7</text>
<text transform="translate(431.19,487.90) scale(0.9,1)" font-size="17.0" stroke="#000" stroke-width="0.35">10</text>
<text transform="translate(449.01,439.40) scale(0.97,1)" font-size="13.0" stroke="#000" stroke-width="0.28">8</text>
<text transform="translate(431.00,448.10) scale(0.9,1)" font-size="17.0" stroke="#000" stroke-width="0.35">10</text>
<text transform="translate(449.07,399.60) scale(0.97,1)" font-size="13.0" stroke="#000" stroke-width="0.28">9</text>
<text transform="translate(431.07,408.30) scale(0.9,1)" font-size="17.0" stroke="#000" stroke-width="0.35">10</text>
<text transform="translate(442.01,359.80) scale(0.97,1)" font-size="13.0" stroke="#000" stroke-width="0.28">10</text>
<text transform="translate(424.38,368.50) scale(0.9,1)" font-size="17.0" stroke="#000" stroke-width="0.35">10</text>
<text transform="translate(443.08,320.00) scale(0.97,1)" font-size="13.0" stroke="#000" stroke-width="0.28">11</text>
<text transform="translate(425.45,328.70) scale(0.9,1)" font-size="17.0" stroke="#000" stroke-width="0.35">10</text>
<text transform="translate(455.05,546.40) scale(0.9,1)" font-size="17.0" stroke="#000" stroke-width="0.35">10</text>
<text transform="translate(472.11,536.60) scale(0.97,1)" font-size="13.0" stroke="#000" stroke-width="0.28">0</text>
<text transform="translate(541.00,546.40) scale(0.9,1)" font-size="17.0" stroke="#000" stroke-width="0.35">10</text>
<text transform="translate(557.62,536.60) scale(0.97,1)" font-size="13.0" stroke="#000" stroke-width="0.28">1</text>
<text transform="translate(626.51,546.40) scale(0.9,1)" font-size="17.0" stroke="#000" stroke-width="0.35">10</text>
<text transform="translate(643.45,536.60) scale(0.97,1)" font-size="13.0" stroke="#000" stroke-width="0.28">2</text>
<text transform="translate(712.09,546.40) scale(0.9,1)" font-size="17.0" stroke="#000" stroke-width="0.35">10</text>
<text transform="translate(729.15,536.60) scale(0.97,1)" font-size="13.0" stroke="#000" stroke-width="0.28">3</text>
<line x1="466.80" y1="481.80" x2="749.40" y2="349.20" stroke="#333" stroke-width="1.1" stroke-dasharray="2.4,3.99" stroke-dashoffset="0.52"/>
<line x1="499.50" y1="470.30" x2="499.50" y2="477.40" stroke="#6c6cff" stroke-width="1.0" />
<line x1="495.30" y1="470.30" x2="503.70" y2="470.30" stroke="#6c6cff" stroke-width="1.0" />
<line x1="495.30" y1="477.40" x2="503.70" y2="477.40" stroke="#6c6cff" stroke-width="1.0" />
<line x1="520.50" y1="459.50" x2="520.50" y2="472.40" stroke="#6c6cff" stroke-width="1.0" />
<line x1="516.30" y1="459.50" x2="524.70" y2="459.50" stroke="#6c6cff" stroke-width="1.0" />
<line x1="516.30" y1="472.40" x2="524.70" y2="472.40" stroke="#6c6cff" stroke-width="1.0" />
<line x1="541.50" y1="445.90" x2="541.50" y2="460.10" stroke="#6c6cff" stroke-width="1.0" />
<line x1="537.30" y1="445.90" x2="545.70" y2="445.90" stroke="#6c6cff" stroke-width="1.0" />
<line x1="537.30" y1="460.10" x2="545.70" y2="460.10" stroke="#6c6cff" stroke-width="1.0" />
<line x1="563.50" y1="434.40" x2="563.50" y2="450.10" stroke="#6c6cff" stroke-width="1.0" />
<line x1="559.30" y1="434.40" x2="567.70" y2="434.40" stroke="#6c6cff" stroke-width="1.0" />
<line x1="559.30" y1="450.10" x2="567.70" y2="450.10" stroke="#6c6cff" stroke-width="1.0" />
<line x1="584.50" y1="421.30" x2="584.50" y2="439.00" stroke="#6c6cff" stroke-width="1.0" />
<line x1="580.30" y1="421.30" x2="588.70" y2="421.30" stroke="#6c6cff" stroke-width="1.0" />
<line x1="580.30" y1="439.00" x2="588.70" y2="439.00" stroke="#6c6cff" stroke-width="1.0" />
<line x1="606.50" y1="410.30" x2="606.50" y2="429.10" stroke="#6c6cff" stroke-width="1.0" />
<line x1="602.30" y1="410.30" x2="610.70" y2="410.30" stroke="#6c6cff" stroke-width="1.0" />
<line x1="602.30" y1="429.10" x2="610.70" y2="429.10" stroke="#6c6cff" stroke-width="1.0" />
<line x1="627.50" y1="402.40" x2="627.50" y2="422.20" stroke="#6c6cff" stroke-width="1.0" />
<line x1="623.30" y1="402.40" x2="631.70" y2="402.40" stroke="#6c6cff" stroke-width="1.0" />
<line x1="623.30" y1="422.20" x2="631.70" y2="422.20" stroke="#6c6cff" stroke-width="1.0" />
<line x1="649.50" y1="391.60" x2="649.50" y2="413.50" stroke="#6c6cff" stroke-width="1.0" />
<line x1="645.30" y1="391.60" x2="653.70" y2="391.60" stroke="#6c6cff" stroke-width="1.0" />
<line x1="645.30" y1="413.50" x2="653.70" y2="413.50" stroke="#6c6cff" stroke-width="1.0" />
<line x1="670.50" y1="381.50" x2="670.50" y2="404.30" stroke="#6c6cff" stroke-width="1.0" />
<line x1="666.30" y1="381.50" x2="674.70" y2="381.50" stroke="#6c6cff" stroke-width="1.0" />
<line x1="666.30" y1="404.30" x2="674.70" y2="404.30" stroke="#6c6cff" stroke-width="1.0" />
<line x1="691.50" y1="368.40" x2="691.50" y2="393.20" stroke="#6c6cff" stroke-width="1.0" />
<line x1="687.30" y1="368.40" x2="695.70" y2="368.40" stroke="#6c6cff" stroke-width="1.0" />
<line x1="687.30" y1="393.20" x2="695.70" y2="393.20" stroke="#6c6cff" stroke-width="1.0" />
<line x1="713.50" y1="354.00" x2="713.50" y2="381.10" stroke="#6c6cff" stroke-width="1.0" />
<line x1="709.30" y1="354.00" x2="717.70" y2="354.00" stroke="#6c6cff" stroke-width="1.0" />
<line x1="709.30" y1="381.10" x2="717.70" y2="381.10" stroke="#6c6cff" stroke-width="1.0" />
<line x1="734.50" y1="344.40" x2="734.50" y2="369.40" stroke="#6c6cff" stroke-width="1.0" />
<line x1="730.30" y1="344.40" x2="738.70" y2="344.40" stroke="#6c6cff" stroke-width="1.0" />
<line x1="730.30" y1="369.40" x2="738.70" y2="369.40" stroke="#6c6cff" stroke-width="1.0" />
<circle cx="499.00" cy="473.90" r="2.15" fill="#0000ff"/>
<circle cx="520.43" cy="465.90" r="2.15" fill="#0000ff"/>
<circle cx="541.86" cy="452.80" r="2.15" fill="#0000ff"/>
<circle cx="563.29" cy="442.10" r="2.15" fill="#0000ff"/>
<circle cx="584.72" cy="429.80" r="2.15" fill="#0000ff"/>
<circle cx="606.15" cy="419.50" r="2.15" fill="#0000ff"/>
<circle cx="627.58" cy="412.40" r="2.15" fill="#0000ff"/>
<circle cx="649.01" cy="403.00" r="2.15" fill="#0000ff"/>
<circle cx="670.44" cy="392.80" r="2.15" fill="#0000ff"/>
<circle cx="691.87" cy="380.70" r="2.15" fill="#0000ff"/>
<circle cx="713.30" cy="366.90" r="2.15" fill="#0000ff"/>
<circle cx="734.73" cy="359.20" r="2.15" fill="#0000ff"/>
<rect x="466.80" y="320.40" width="282.60" height="199.00" fill="none" stroke="#0a0a0a" stroke-width="1.05"/>
<text x="607.4" y="571.0" font-size="16" text-anchor="middle" textLength="179.5" lengthAdjust="spacingAndGlyphs" stroke="#000" stroke-width="0.22">Conductance [arb. unit]</text>
<text transform="translate(407.4,527.2) rotate(-90)" font-size="16" stroke="#000" stroke-width="0.22"><tspan textLength="183" lengthAdjust="spacingAndGlyphs">Variance of currents [1/h</tspan><tspan font-size="10.5" dy="-8.5">2</tspan><tspan dy="8.5" dx="0.5">]</tspan></text>
<text transform="translate(392.10,304.80) scale(0.92,1)" font-size="19.0" stroke="#000" stroke-width="0.22">d</text>
</svg>
</body></html>
